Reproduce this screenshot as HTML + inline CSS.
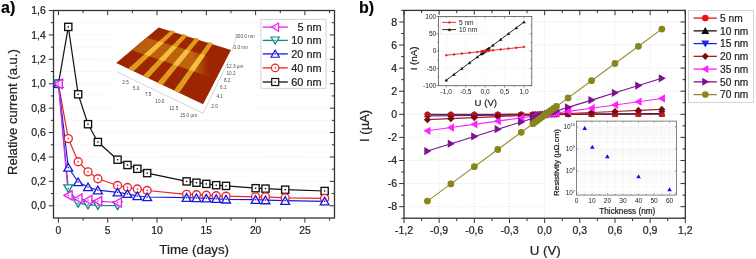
<!DOCTYPE html>
<html><head><meta charset="utf-8"><style>
html,body{margin:0;padding:0;background:#fff;}
svg{display:block;font-family:"Liberation Sans", sans-serif;}
svg{will-change:transform;}
text{stroke:#2a2a2a;stroke-width:0.22px;paint-order:stroke;}
text.sm{stroke:none;}
</style></head><body>
<svg width="756" height="259" viewBox="0 0 756 259">
<rect width="756" height="259" fill="#fff"/>
<line x1="53.5" y1="205.79" x2="334.5" y2="205.79" stroke="#e4e4e4" stroke-width="0.8" stroke-dasharray="1 1.6"/>
<line x1="53.5" y1="193.59" x2="334.5" y2="193.59" stroke="#e4e4e4" stroke-width="0.8" stroke-dasharray="1 1.6"/>
<line x1="53.5" y1="181.38" x2="334.5" y2="181.38" stroke="#e4e4e4" stroke-width="0.8" stroke-dasharray="1 1.6"/>
<line x1="53.5" y1="169.18" x2="334.5" y2="169.18" stroke="#e4e4e4" stroke-width="0.8" stroke-dasharray="1 1.6"/>
<line x1="53.5" y1="156.97" x2="334.5" y2="156.97" stroke="#e4e4e4" stroke-width="0.8" stroke-dasharray="1 1.6"/>
<line x1="53.5" y1="144.76" x2="334.5" y2="144.76" stroke="#e4e4e4" stroke-width="0.8" stroke-dasharray="1 1.6"/>
<line x1="53.5" y1="132.56" x2="334.5" y2="132.56" stroke="#e4e4e4" stroke-width="0.8" stroke-dasharray="1 1.6"/>
<line x1="53.5" y1="120.35" x2="334.5" y2="120.35" stroke="#e4e4e4" stroke-width="0.8" stroke-dasharray="1 1.6"/>
<line x1="53.5" y1="108.15" x2="334.5" y2="108.15" stroke="#e4e4e4" stroke-width="0.8" stroke-dasharray="1 1.6"/>
<line x1="53.5" y1="95.94" x2="334.5" y2="95.94" stroke="#e4e4e4" stroke-width="0.8" stroke-dasharray="1 1.6"/>
<line x1="53.5" y1="83.74" x2="334.5" y2="83.74" stroke="#e4e4e4" stroke-width="0.8" stroke-dasharray="1 1.6"/>
<line x1="53.5" y1="71.53" x2="334.5" y2="71.53" stroke="#e4e4e4" stroke-width="0.8" stroke-dasharray="1 1.6"/>
<line x1="53.5" y1="59.32" x2="334.5" y2="59.32" stroke="#e4e4e4" stroke-width="0.8" stroke-dasharray="1 1.6"/>
<line x1="53.5" y1="47.12" x2="334.5" y2="47.12" stroke="#e4e4e4" stroke-width="0.8" stroke-dasharray="1 1.6"/>
<line x1="53.5" y1="34.91" x2="334.5" y2="34.91" stroke="#e4e4e4" stroke-width="0.8" stroke-dasharray="1 1.6"/>
<line x1="53.5" y1="22.71" x2="334.5" y2="22.71" stroke="#e4e4e4" stroke-width="0.8" stroke-dasharray="1 1.6"/>
<rect x="114.5" y="24" width="137" height="90" fill="#fff"/>
<defs><clipPath id="surf"><polygon points="158.7,27.6 231,50 203.1,104.2 116.2,63"/></clipPath><clipPath id="band"><polygon points="128,32 214,58 232,63.5 232,84 210,77 128,49"/></clipPath><linearGradient id="bg" x1="128" y1="0" x2="209" y2="0" gradientUnits="userSpaceOnUse"><stop offset="0" stop-color="#b85a0c"/><stop offset="0.8" stop-color="#c0640e"/><stop offset="1" stop-color="#c0640e" stop-opacity="0"/></linearGradient></defs>
<polygon points="158.7,27.6 231,50 203.1,104.2 116.2,63" fill="#9c2602" stroke="none" stroke-width="1" />
<g clip-path="url(#surf)">
<polygon points="128,32 214,58 232,63.5 232,84 210,77 128,49" fill="url(#bg)" stroke="none" stroke-width="1" />
<polygon points="171.52,30.05 175.83,31.36 133.41,71.16 128.19,68.69" fill="#e09a1c" stroke="none" stroke-width="1" />
<polygon points="183.74,33.76 188.05,35.07 148.18,78.16 142.97,75.69" fill="#e09a1c" stroke="none" stroke-width="1" />
<polygon points="195.74,37.4 200.05,38.72 162.69,85.04 157.48,82.57" fill="#e09a1c" stroke="none" stroke-width="1" />
<polygon points="209.39,41.55 213.7,42.86 179.2,92.87 173.99,90.4" fill="#e09a1c" stroke="none" stroke-width="1" />
<g clip-path="url(#band)">
<polygon points="170.27,31.18 174.61,32.53 133.41,71.16 128.19,68.69" fill="#f4bf3c" stroke="none" stroke-width="1" />
<polygon points="182.56,34.99 186.9,36.34 148.18,78.16 142.97,75.69" fill="#f4bf3c" stroke="none" stroke-width="1" />
<polygon points="194.63,38.73 198.97,40.08 162.69,85.04 157.48,82.57" fill="#f4bf3c" stroke="none" stroke-width="1" />
<polygon points="208.37,42.99 212.71,44.33 179.2,92.87 173.99,90.4" fill="#f4bf3c" stroke="none" stroke-width="1" />
</g></g>
<polygon points="170.27,31.18 174.61,32.53 174.61,31.33 170.27,29.98" fill="#e09a1c" stroke="none" stroke-width="1" />
<polygon points="182.56,34.99 186.9,36.34 186.9,35.14 182.56,33.79" fill="#e09a1c" stroke="none" stroke-width="1" />
<polygon points="194.63,38.73 198.97,40.08 198.97,38.88 194.63,37.53" fill="#e09a1c" stroke="none" stroke-width="1" />
<polygon points="208.37,42.99 212.71,44.33 212.71,43.13 208.37,41.79" fill="#e09a1c" stroke="none" stroke-width="1" />
<line x1="117.4" y1="72.1" x2="203.1" y2="113.3" stroke="#aaa" stroke-width="0.5" />
<line x1="203.1" y1="113.3" x2="228.5" y2="61" stroke="#aaa" stroke-width="0.5" />
<line x1="232" y1="50.5" x2="236" y2="38" stroke="#aaa" stroke-width="0.5" />
<text x="122.3" y="84.4" font-size="4.7" text-anchor="start" fill="#4a4a4a" font-weight="normal"  class="sm">2.5</text>
<text x="132.8" y="89.6" font-size="4.7" text-anchor="start" fill="#4a4a4a" font-weight="normal"  class="sm">5.0</text>
<text x="144.9" y="96" font-size="4.7" text-anchor="start" fill="#4a4a4a" font-weight="normal"  class="sm">7.5</text>
<text x="155.3" y="102.6" font-size="4.7" text-anchor="start" fill="#4a4a4a" font-weight="normal"  class="sm">10.0</text>
<text x="169.2" y="109.6" font-size="4.7" text-anchor="start" fill="#4a4a4a" font-weight="normal"  class="sm">12.5</text>
<text x="180" y="117" font-size="4.7" text-anchor="start" fill="#4a4a4a" font-weight="normal"  class="sm">15.0 µm</text>
<text x="211.3" y="108.1" font-size="4.7" text-anchor="start" fill="#4a4a4a" font-weight="normal"  class="sm">2.0</text>
<text x="216.4" y="98.1" font-size="4.7" text-anchor="start" fill="#4a4a4a" font-weight="normal"  class="sm">4.1</text>
<text x="220.1" y="89.3" font-size="4.7" text-anchor="start" fill="#4a4a4a" font-weight="normal"  class="sm">6.1</text>
<text x="223.9" y="81.7" font-size="4.7" text-anchor="start" fill="#4a4a4a" font-weight="normal"  class="sm">8.2</text>
<text x="226.4" y="74.7" font-size="4.7" text-anchor="start" fill="#4a4a4a" font-weight="normal"  class="sm">10.2</text>
<text x="226.4" y="67.9" font-size="4.7" text-anchor="start" fill="#4a4a4a" font-weight="normal"  class="sm">12.3 µm</text>
<text x="233.5" y="49.2" font-size="4.7" text-anchor="start" fill="#4a4a4a" font-weight="normal"  class="sm">0.0 nm</text>
<text x="235.2" y="38.3" font-size="4.7" text-anchor="start" fill="#4a4a4a" font-weight="normal"  class="sm">300.0 nm</text>
<rect x="53.5" y="10.5" width="281.0" height="207.5" fill="none" stroke="#333" stroke-width="1.3"/>
<line x1="48.8" y1="205.79" x2="53.5" y2="205.79" stroke="#333" stroke-width="1" />
<line x1="329.8" y1="205.79" x2="334.5" y2="205.79" stroke="#333" stroke-width="1" />
<text x="45.8" y="209.49" font-size="10.5" text-anchor="end" fill="#222" font-weight="normal" >0,0</text>
<line x1="50.8" y1="193.59" x2="53.5" y2="193.59" stroke="#333" stroke-width="1" />
<line x1="331.8" y1="193.59" x2="334.5" y2="193.59" stroke="#333" stroke-width="1" />
<line x1="48.8" y1="181.38" x2="53.5" y2="181.38" stroke="#333" stroke-width="1" />
<line x1="329.8" y1="181.38" x2="334.5" y2="181.38" stroke="#333" stroke-width="1" />
<text x="45.8" y="185.08" font-size="10.5" text-anchor="end" fill="#222" font-weight="normal" >0,2</text>
<line x1="50.8" y1="169.18" x2="53.5" y2="169.18" stroke="#333" stroke-width="1" />
<line x1="331.8" y1="169.18" x2="334.5" y2="169.18" stroke="#333" stroke-width="1" />
<line x1="48.8" y1="156.97" x2="53.5" y2="156.97" stroke="#333" stroke-width="1" />
<line x1="329.8" y1="156.97" x2="334.5" y2="156.97" stroke="#333" stroke-width="1" />
<text x="45.8" y="160.67" font-size="10.5" text-anchor="end" fill="#222" font-weight="normal" >0,4</text>
<line x1="50.8" y1="144.76" x2="53.5" y2="144.76" stroke="#333" stroke-width="1" />
<line x1="331.8" y1="144.76" x2="334.5" y2="144.76" stroke="#333" stroke-width="1" />
<line x1="48.8" y1="132.56" x2="53.5" y2="132.56" stroke="#333" stroke-width="1" />
<line x1="329.8" y1="132.56" x2="334.5" y2="132.56" stroke="#333" stroke-width="1" />
<text x="45.8" y="136.26" font-size="10.5" text-anchor="end" fill="#222" font-weight="normal" >0,6</text>
<line x1="50.8" y1="120.35" x2="53.5" y2="120.35" stroke="#333" stroke-width="1" />
<line x1="331.8" y1="120.35" x2="334.5" y2="120.35" stroke="#333" stroke-width="1" />
<line x1="48.8" y1="108.15" x2="53.5" y2="108.15" stroke="#333" stroke-width="1" />
<line x1="329.8" y1="108.15" x2="334.5" y2="108.15" stroke="#333" stroke-width="1" />
<text x="45.8" y="111.85" font-size="10.5" text-anchor="end" fill="#222" font-weight="normal" >0,8</text>
<line x1="50.8" y1="95.94" x2="53.5" y2="95.94" stroke="#333" stroke-width="1" />
<line x1="331.8" y1="95.94" x2="334.5" y2="95.94" stroke="#333" stroke-width="1" />
<line x1="48.8" y1="83.74" x2="53.5" y2="83.74" stroke="#333" stroke-width="1" />
<line x1="329.8" y1="83.74" x2="334.5" y2="83.74" stroke="#333" stroke-width="1" />
<text x="45.8" y="87.44" font-size="10.5" text-anchor="end" fill="#222" font-weight="normal" >1,0</text>
<line x1="50.8" y1="71.53" x2="53.5" y2="71.53" stroke="#333" stroke-width="1" />
<line x1="331.8" y1="71.53" x2="334.5" y2="71.53" stroke="#333" stroke-width="1" />
<line x1="48.8" y1="59.32" x2="53.5" y2="59.32" stroke="#333" stroke-width="1" />
<line x1="329.8" y1="59.32" x2="334.5" y2="59.32" stroke="#333" stroke-width="1" />
<text x="45.8" y="63.02" font-size="10.5" text-anchor="end" fill="#222" font-weight="normal" >1,2</text>
<line x1="50.8" y1="47.12" x2="53.5" y2="47.12" stroke="#333" stroke-width="1" />
<line x1="331.8" y1="47.12" x2="334.5" y2="47.12" stroke="#333" stroke-width="1" />
<line x1="48.8" y1="34.91" x2="53.5" y2="34.91" stroke="#333" stroke-width="1" />
<line x1="329.8" y1="34.91" x2="334.5" y2="34.91" stroke="#333" stroke-width="1" />
<text x="45.8" y="38.61" font-size="10.5" text-anchor="end" fill="#222" font-weight="normal" >1,4</text>
<line x1="50.8" y1="22.71" x2="53.5" y2="22.71" stroke="#333" stroke-width="1" />
<line x1="331.8" y1="22.71" x2="334.5" y2="22.71" stroke="#333" stroke-width="1" />
<line x1="48.8" y1="10.5" x2="53.5" y2="10.5" stroke="#333" stroke-width="1" />
<line x1="329.8" y1="10.5" x2="334.5" y2="10.5" stroke="#333" stroke-width="1" />
<text x="45.8" y="14.2" font-size="10.5" text-anchor="end" fill="#222" font-weight="normal" >1,6</text>
<line x1="58.43" y1="218" x2="58.43" y2="222.7" stroke="#333" stroke-width="1" />
<line x1="58.43" y1="10.5" x2="58.43" y2="15.2" stroke="#333" stroke-width="1" />
<text x="58.43" y="233.6" font-size="10.3" text-anchor="middle" fill="#222" font-weight="normal" >0</text>
<line x1="83.08" y1="218" x2="83.08" y2="220.7" stroke="#333" stroke-width="1" />
<line x1="83.08" y1="10.5" x2="83.08" y2="13.2" stroke="#333" stroke-width="1" />
<line x1="107.73" y1="218" x2="107.73" y2="222.7" stroke="#333" stroke-width="1" />
<line x1="107.73" y1="10.5" x2="107.73" y2="15.2" stroke="#333" stroke-width="1" />
<text x="107.73" y="233.6" font-size="10.3" text-anchor="middle" fill="#222" font-weight="normal" >5</text>
<line x1="132.38" y1="218" x2="132.38" y2="220.7" stroke="#333" stroke-width="1" />
<line x1="132.38" y1="10.5" x2="132.38" y2="13.2" stroke="#333" stroke-width="1" />
<line x1="157.03" y1="218" x2="157.03" y2="222.7" stroke="#333" stroke-width="1" />
<line x1="157.03" y1="10.5" x2="157.03" y2="15.2" stroke="#333" stroke-width="1" />
<text x="157.03" y="233.6" font-size="10.3" text-anchor="middle" fill="#222" font-weight="normal" >10</text>
<line x1="181.68" y1="218" x2="181.68" y2="220.7" stroke="#333" stroke-width="1" />
<line x1="181.68" y1="10.5" x2="181.68" y2="13.2" stroke="#333" stroke-width="1" />
<line x1="206.32" y1="218" x2="206.32" y2="222.7" stroke="#333" stroke-width="1" />
<line x1="206.32" y1="10.5" x2="206.32" y2="15.2" stroke="#333" stroke-width="1" />
<text x="206.32" y="233.6" font-size="10.3" text-anchor="middle" fill="#222" font-weight="normal" >15</text>
<line x1="230.97" y1="218" x2="230.97" y2="220.7" stroke="#333" stroke-width="1" />
<line x1="230.97" y1="10.5" x2="230.97" y2="13.2" stroke="#333" stroke-width="1" />
<line x1="255.62" y1="218" x2="255.62" y2="222.7" stroke="#333" stroke-width="1" />
<line x1="255.62" y1="10.5" x2="255.62" y2="15.2" stroke="#333" stroke-width="1" />
<text x="255.62" y="233.6" font-size="10.3" text-anchor="middle" fill="#222" font-weight="normal" >20</text>
<line x1="280.27" y1="218" x2="280.27" y2="220.7" stroke="#333" stroke-width="1" />
<line x1="280.27" y1="10.5" x2="280.27" y2="13.2" stroke="#333" stroke-width="1" />
<line x1="304.92" y1="218" x2="304.92" y2="222.7" stroke="#333" stroke-width="1" />
<line x1="304.92" y1="10.5" x2="304.92" y2="15.2" stroke="#333" stroke-width="1" />
<text x="304.92" y="233.6" font-size="10.3" text-anchor="middle" fill="#222" font-weight="normal" >25</text>
<line x1="329.57" y1="218" x2="329.57" y2="220.7" stroke="#333" stroke-width="1" />
<line x1="329.57" y1="10.5" x2="329.57" y2="13.2" stroke="#333" stroke-width="1" />
<text x="194.2" y="254.4" font-size="13.3" text-anchor="middle" fill="#222" font-weight="normal" >Time (days)</text>
<text x="0" y="0" font-size="13.1" text-anchor="middle" fill="#222" font-weight="normal" transform="translate(16.9,112.1) rotate(-90)">Relative current (a.u.)</text>
<text x="1" y="13" font-size="16" text-anchor="start" fill="#000" font-weight="bold" >a)</text>
<polyline points="58.43,83.8 68.29,26.9 78.15,94.3 88.01,124.2 97.87,142 117.59,159.7 127.45,165 137.31,168.8 147.17,173.1 186.61,181.4 196.46,182.7 206.32,183.9 216.18,185.2 226.04,185.9 255.62,188.2 265.48,188.6 285.2,189.7 324.64,191" fill="none" stroke="#111" stroke-width="1.2" stroke-linejoin="round" />
<polyline points="58.43,83.8 68.29,138.6 78.15,161.7 88.01,171.8 97.87,178.7 117.59,185.5 127.45,187.5 137.31,189 147.17,190.5 186.61,194.3 196.46,194.7 206.32,195.2 216.18,195.7 226.04,196.2 255.62,196.9 265.48,196.9 285.2,197.8 324.64,198.4" fill="none" stroke="#e8262a" stroke-width="1.2" stroke-linejoin="round" />
<polyline points="58.43,83.8 68.29,167.5 78.15,182 88.01,187 97.87,190.2 117.59,192.3 127.45,193.8 137.31,196 147.17,197 186.61,197.7 196.46,198 206.32,198.3 216.18,198.8 226.04,199.4 255.62,199.7 265.48,200.1 285.2,200.7 324.64,201.3" fill="none" stroke="#1a1adc" stroke-width="1.2" stroke-linejoin="round" />
<polyline points="58.43,83.8 68.29,188.4 78.15,203.2 88.01,204.9 97.87,205.3 117.59,205.6" fill="none" stroke="#0e8a8a" stroke-width="1.2" stroke-linejoin="round" />
<polyline points="58.43,83.8 68.29,195.4 78.15,198.5 88.01,200 97.87,201.2 117.59,202.5" fill="none" stroke="#f01cf0" stroke-width="1.2" stroke-linejoin="round" />
<rect x="54.83" y="80.2" width="7.2" height="7.2" fill="#fff" stroke="#111" stroke-width="1.35"/>
<rect x="57.73" y="83.1" width="1.4" height="1.4" fill="#111"/>
<rect x="64.69" y="23.3" width="7.2" height="7.2" fill="#fff" stroke="#111" stroke-width="1.35"/>
<rect x="67.59" y="26.2" width="1.4" height="1.4" fill="#111"/>
<rect x="74.55" y="90.7" width="7.2" height="7.2" fill="#fff" stroke="#111" stroke-width="1.35"/>
<rect x="77.45" y="93.6" width="1.4" height="1.4" fill="#111"/>
<rect x="84.41" y="120.6" width="7.2" height="7.2" fill="#fff" stroke="#111" stroke-width="1.35"/>
<rect x="87.31" y="123.5" width="1.4" height="1.4" fill="#111"/>
<rect x="94.27" y="138.4" width="7.2" height="7.2" fill="#fff" stroke="#111" stroke-width="1.35"/>
<rect x="97.17" y="141.3" width="1.4" height="1.4" fill="#111"/>
<rect x="113.99" y="156.1" width="7.2" height="7.2" fill="#fff" stroke="#111" stroke-width="1.35"/>
<rect x="116.89" y="159" width="1.4" height="1.4" fill="#111"/>
<rect x="123.85" y="161.4" width="7.2" height="7.2" fill="#fff" stroke="#111" stroke-width="1.35"/>
<rect x="126.75" y="164.3" width="1.4" height="1.4" fill="#111"/>
<rect x="133.71" y="165.2" width="7.2" height="7.2" fill="#fff" stroke="#111" stroke-width="1.35"/>
<rect x="136.61" y="168.1" width="1.4" height="1.4" fill="#111"/>
<rect x="143.57" y="169.5" width="7.2" height="7.2" fill="#fff" stroke="#111" stroke-width="1.35"/>
<rect x="146.47" y="172.4" width="1.4" height="1.4" fill="#111"/>
<rect x="183.01" y="177.8" width="7.2" height="7.2" fill="#fff" stroke="#111" stroke-width="1.35"/>
<rect x="185.91" y="180.7" width="1.4" height="1.4" fill="#111"/>
<rect x="192.86" y="179.1" width="7.2" height="7.2" fill="#fff" stroke="#111" stroke-width="1.35"/>
<rect x="195.76" y="182" width="1.4" height="1.4" fill="#111"/>
<rect x="202.72" y="180.3" width="7.2" height="7.2" fill="#fff" stroke="#111" stroke-width="1.35"/>
<rect x="205.62" y="183.2" width="1.4" height="1.4" fill="#111"/>
<rect x="212.58" y="181.6" width="7.2" height="7.2" fill="#fff" stroke="#111" stroke-width="1.35"/>
<rect x="215.48" y="184.5" width="1.4" height="1.4" fill="#111"/>
<rect x="222.44" y="182.3" width="7.2" height="7.2" fill="#fff" stroke="#111" stroke-width="1.35"/>
<rect x="225.34" y="185.2" width="1.4" height="1.4" fill="#111"/>
<rect x="252.02" y="184.6" width="7.2" height="7.2" fill="#fff" stroke="#111" stroke-width="1.35"/>
<rect x="254.92" y="187.5" width="1.4" height="1.4" fill="#111"/>
<rect x="261.88" y="185" width="7.2" height="7.2" fill="#fff" stroke="#111" stroke-width="1.35"/>
<rect x="264.78" y="187.9" width="1.4" height="1.4" fill="#111"/>
<rect x="281.6" y="186.1" width="7.2" height="7.2" fill="#fff" stroke="#111" stroke-width="1.35"/>
<rect x="284.5" y="189" width="1.4" height="1.4" fill="#111"/>
<rect x="321.04" y="187.4" width="7.2" height="7.2" fill="#fff" stroke="#111" stroke-width="1.35"/>
<rect x="323.94" y="190.3" width="1.4" height="1.4" fill="#111"/>
<circle cx="58.43" cy="83.8" r="4" fill="#fff" stroke="#e8262a" stroke-width="1.35"/>
<rect x="57.73" y="83.1" width="1.4" height="1.4" fill="#e8262a"/>
<circle cx="68.29" cy="138.6" r="4" fill="#fff" stroke="#e8262a" stroke-width="1.35"/>
<rect x="67.59" y="137.9" width="1.4" height="1.4" fill="#e8262a"/>
<circle cx="78.15" cy="161.7" r="4" fill="#fff" stroke="#e8262a" stroke-width="1.35"/>
<rect x="77.45" y="161" width="1.4" height="1.4" fill="#e8262a"/>
<circle cx="88.01" cy="171.8" r="4" fill="#fff" stroke="#e8262a" stroke-width="1.35"/>
<rect x="87.31" y="171.1" width="1.4" height="1.4" fill="#e8262a"/>
<circle cx="97.87" cy="178.7" r="4" fill="#fff" stroke="#e8262a" stroke-width="1.35"/>
<rect x="97.17" y="178" width="1.4" height="1.4" fill="#e8262a"/>
<circle cx="117.59" cy="185.5" r="4" fill="#fff" stroke="#e8262a" stroke-width="1.35"/>
<rect x="116.89" y="184.8" width="1.4" height="1.4" fill="#e8262a"/>
<circle cx="127.45" cy="187.5" r="4" fill="#fff" stroke="#e8262a" stroke-width="1.35"/>
<rect x="126.75" y="186.8" width="1.4" height="1.4" fill="#e8262a"/>
<circle cx="137.31" cy="189" r="4" fill="#fff" stroke="#e8262a" stroke-width="1.35"/>
<rect x="136.61" y="188.3" width="1.4" height="1.4" fill="#e8262a"/>
<circle cx="147.17" cy="190.5" r="4" fill="#fff" stroke="#e8262a" stroke-width="1.35"/>
<rect x="146.47" y="189.8" width="1.4" height="1.4" fill="#e8262a"/>
<circle cx="186.61" cy="194.3" r="4" fill="#fff" stroke="#e8262a" stroke-width="1.35"/>
<rect x="185.91" y="193.6" width="1.4" height="1.4" fill="#e8262a"/>
<circle cx="196.46" cy="194.7" r="4" fill="#fff" stroke="#e8262a" stroke-width="1.35"/>
<rect x="195.76" y="194" width="1.4" height="1.4" fill="#e8262a"/>
<circle cx="206.32" cy="195.2" r="4" fill="#fff" stroke="#e8262a" stroke-width="1.35"/>
<rect x="205.62" y="194.5" width="1.4" height="1.4" fill="#e8262a"/>
<circle cx="216.18" cy="195.7" r="4" fill="#fff" stroke="#e8262a" stroke-width="1.35"/>
<rect x="215.48" y="195" width="1.4" height="1.4" fill="#e8262a"/>
<circle cx="226.04" cy="196.2" r="4" fill="#fff" stroke="#e8262a" stroke-width="1.35"/>
<rect x="225.34" y="195.5" width="1.4" height="1.4" fill="#e8262a"/>
<circle cx="255.62" cy="196.9" r="4" fill="#fff" stroke="#e8262a" stroke-width="1.35"/>
<rect x="254.92" y="196.2" width="1.4" height="1.4" fill="#e8262a"/>
<circle cx="265.48" cy="196.9" r="4" fill="#fff" stroke="#e8262a" stroke-width="1.35"/>
<rect x="264.78" y="196.2" width="1.4" height="1.4" fill="#e8262a"/>
<circle cx="285.2" cy="197.8" r="4" fill="#fff" stroke="#e8262a" stroke-width="1.35"/>
<rect x="284.5" y="197.1" width="1.4" height="1.4" fill="#e8262a"/>
<circle cx="324.64" cy="198.4" r="4" fill="#fff" stroke="#e8262a" stroke-width="1.35"/>
<rect x="323.94" y="197.7" width="1.4" height="1.4" fill="#e8262a"/>
<polygon points="58.43,79.8 54.03,87.4 62.83,87.4" fill="#fff" stroke="#1a1adc" stroke-width="1.35" />
<rect x="57.73" y="83.1" width="1.4" height="1.4" fill="#1a1adc"/>
<polygon points="68.29,163.5 63.89,171.1 72.69,171.1" fill="#fff" stroke="#1a1adc" stroke-width="1.35" />
<rect x="67.59" y="166.8" width="1.4" height="1.4" fill="#1a1adc"/>
<polygon points="78.15,178 73.75,185.6 82.55,185.6" fill="#fff" stroke="#1a1adc" stroke-width="1.35" />
<rect x="77.45" y="181.3" width="1.4" height="1.4" fill="#1a1adc"/>
<polygon points="88.01,183 83.61,190.6 92.41,190.6" fill="#fff" stroke="#1a1adc" stroke-width="1.35" />
<rect x="87.31" y="186.3" width="1.4" height="1.4" fill="#1a1adc"/>
<polygon points="97.87,186.2 93.47,193.8 102.27,193.8" fill="#fff" stroke="#1a1adc" stroke-width="1.35" />
<rect x="97.17" y="189.5" width="1.4" height="1.4" fill="#1a1adc"/>
<polygon points="117.59,188.3 113.19,195.9 121.99,195.9" fill="#fff" stroke="#1a1adc" stroke-width="1.35" />
<rect x="116.89" y="191.6" width="1.4" height="1.4" fill="#1a1adc"/>
<polygon points="127.45,189.8 123.05,197.4 131.85,197.4" fill="#fff" stroke="#1a1adc" stroke-width="1.35" />
<rect x="126.75" y="193.1" width="1.4" height="1.4" fill="#1a1adc"/>
<polygon points="137.31,192 132.91,199.6 141.71,199.6" fill="#fff" stroke="#1a1adc" stroke-width="1.35" />
<rect x="136.61" y="195.3" width="1.4" height="1.4" fill="#1a1adc"/>
<polygon points="147.17,193 142.77,200.6 151.57,200.6" fill="#fff" stroke="#1a1adc" stroke-width="1.35" />
<rect x="146.47" y="196.3" width="1.4" height="1.4" fill="#1a1adc"/>
<polygon points="186.61,193.7 182.21,201.3 191.01,201.3" fill="#fff" stroke="#1a1adc" stroke-width="1.35" />
<rect x="185.91" y="197" width="1.4" height="1.4" fill="#1a1adc"/>
<polygon points="196.46,194 192.06,201.6 200.86,201.6" fill="#fff" stroke="#1a1adc" stroke-width="1.35" />
<rect x="195.76" y="197.3" width="1.4" height="1.4" fill="#1a1adc"/>
<polygon points="206.32,194.3 201.92,201.9 210.72,201.9" fill="#fff" stroke="#1a1adc" stroke-width="1.35" />
<rect x="205.62" y="197.6" width="1.4" height="1.4" fill="#1a1adc"/>
<polygon points="216.18,194.8 211.78,202.4 220.58,202.4" fill="#fff" stroke="#1a1adc" stroke-width="1.35" />
<rect x="215.48" y="198.1" width="1.4" height="1.4" fill="#1a1adc"/>
<polygon points="226.04,195.4 221.64,203 230.44,203" fill="#fff" stroke="#1a1adc" stroke-width="1.35" />
<rect x="225.34" y="198.7" width="1.4" height="1.4" fill="#1a1adc"/>
<polygon points="255.62,195.7 251.22,203.3 260.02,203.3" fill="#fff" stroke="#1a1adc" stroke-width="1.35" />
<rect x="254.92" y="199" width="1.4" height="1.4" fill="#1a1adc"/>
<polygon points="265.48,196.1 261.08,203.7 269.88,203.7" fill="#fff" stroke="#1a1adc" stroke-width="1.35" />
<rect x="264.78" y="199.4" width="1.4" height="1.4" fill="#1a1adc"/>
<polygon points="285.2,196.7 280.8,204.3 289.6,204.3" fill="#fff" stroke="#1a1adc" stroke-width="1.35" />
<rect x="284.5" y="200" width="1.4" height="1.4" fill="#1a1adc"/>
<polygon points="324.64,197.3 320.24,204.9 329.04,204.9" fill="#fff" stroke="#1a1adc" stroke-width="1.35" />
<rect x="323.94" y="200.6" width="1.4" height="1.4" fill="#1a1adc"/>
<polygon points="58.43,87.8 54.03,80.2 62.83,80.2" fill="#fff" stroke="#0e8a8a" stroke-width="1.35" />
<rect x="57.73" y="83.1" width="1.4" height="1.4" fill="#0e8a8a"/>
<polygon points="68.29,192.4 63.89,184.8 72.69,184.8" fill="#fff" stroke="#0e8a8a" stroke-width="1.35" />
<rect x="67.59" y="187.7" width="1.4" height="1.4" fill="#0e8a8a"/>
<polygon points="78.15,207.2 73.75,199.6 82.55,199.6" fill="#fff" stroke="#0e8a8a" stroke-width="1.35" />
<rect x="77.45" y="202.5" width="1.4" height="1.4" fill="#0e8a8a"/>
<polygon points="88.01,208.9 83.61,201.3 92.41,201.3" fill="#fff" stroke="#0e8a8a" stroke-width="1.35" />
<rect x="87.31" y="204.2" width="1.4" height="1.4" fill="#0e8a8a"/>
<polygon points="97.87,209.3 93.47,201.7 102.27,201.7" fill="#fff" stroke="#0e8a8a" stroke-width="1.35" />
<rect x="97.17" y="204.6" width="1.4" height="1.4" fill="#0e8a8a"/>
<polygon points="117.59,209.6 113.19,202 121.99,202" fill="#fff" stroke="#0e8a8a" stroke-width="1.35" />
<rect x="116.89" y="204.9" width="1.4" height="1.4" fill="#0e8a8a"/>
<polygon points="54.18,83.8 62.25,79.12 62.25,88.47" fill="#fff" stroke="#f01cf0" stroke-width="1.35" />
<rect x="57.73" y="83.1" width="1.4" height="1.4" fill="#f01cf0"/>
<polygon points="64.04,195.4 72.11,190.72 72.11,200.08" fill="#fff" stroke="#f01cf0" stroke-width="1.35" />
<rect x="67.59" y="194.7" width="1.4" height="1.4" fill="#f01cf0"/>
<polygon points="73.9,198.5 81.97,193.82 81.97,203.18" fill="#fff" stroke="#f01cf0" stroke-width="1.35" />
<rect x="77.45" y="197.8" width="1.4" height="1.4" fill="#f01cf0"/>
<polygon points="83.76,200 91.83,195.32 91.83,204.68" fill="#fff" stroke="#f01cf0" stroke-width="1.35" />
<rect x="87.31" y="199.3" width="1.4" height="1.4" fill="#f01cf0"/>
<polygon points="93.62,201.2 101.69,196.52 101.69,205.88" fill="#fff" stroke="#f01cf0" stroke-width="1.35" />
<rect x="97.17" y="200.5" width="1.4" height="1.4" fill="#f01cf0"/>
<polygon points="113.34,202.5 121.41,197.82 121.41,207.18" fill="#fff" stroke="#f01cf0" stroke-width="1.35" />
<rect x="116.89" y="201.8" width="1.4" height="1.4" fill="#f01cf0"/>
<rect x="261" y="19.3" width="65" height="69" fill="#fff" stroke="#c8c8c8" stroke-width="0.8"/>
<line x1="262.7" y1="27.1" x2="287.8" y2="27.1" stroke="#f01cf0" stroke-width="1.3" />
<polygon points="271.45,27.1 278.57,22.98 278.57,31.23" fill="#fff" stroke="#f01cf0" stroke-width="1.2" />
<rect x="274.5" y="26.4" width="1.4" height="1.4" fill="#f01cf0"/>
<text x="321.6" y="31" font-size="10.9" text-anchor="end" fill="#222" font-weight="normal" >5 nm</text>
<line x1="262.7" y1="40.4" x2="287.8" y2="40.4" stroke="#0e8a8a" stroke-width="1.3" />
<polygon points="275.2,44.15 271.07,37.02 279.32,37.02" fill="#fff" stroke="#0e8a8a" stroke-width="1.2" />
<rect x="274.5" y="39.7" width="1.4" height="1.4" fill="#0e8a8a"/>
<text x="321.6" y="44.3" font-size="10.9" text-anchor="end" fill="#222" font-weight="normal" >10 nm</text>
<line x1="262.7" y1="53.9" x2="287.8" y2="53.9" stroke="#1a1adc" stroke-width="1.3" />
<polygon points="275.2,50.15 271.07,57.27 279.32,57.27" fill="#fff" stroke="#1a1adc" stroke-width="1.2" />
<rect x="274.5" y="53.2" width="1.4" height="1.4" fill="#1a1adc"/>
<text x="321.6" y="57.8" font-size="10.9" text-anchor="end" fill="#222" font-weight="normal" >20 nm</text>
<line x1="262.7" y1="67.9" x2="287.8" y2="67.9" stroke="#e8262a" stroke-width="1.3" />
<circle cx="275.2" cy="67.9" r="3.75" fill="#fff" stroke="#e8262a" stroke-width="1.2"/>
<rect x="274.5" y="67.2" width="1.4" height="1.4" fill="#e8262a"/>
<text x="321.6" y="71.8" font-size="10.9" text-anchor="end" fill="#222" font-weight="normal" >40 nm</text>
<line x1="262.7" y1="82" x2="287.8" y2="82" stroke="#111" stroke-width="1.3" />
<rect x="271.7" y="78.5" width="7" height="7" fill="#fff" stroke="#111" stroke-width="1.2"/>
<rect x="274.5" y="81.3" width="1.4" height="1.4" fill="#111"/>
<text x="321.6" y="85.9" font-size="10.9" text-anchor="end" fill="#222" font-weight="normal" >60 nm</text>
<line x1="439.16" y1="10.4" x2="439.16" y2="218.2" stroke="#dcdcdc" stroke-width="0.8" stroke-dasharray="1 1.6"/>
<line x1="474.32" y1="10.4" x2="474.32" y2="218.2" stroke="#dcdcdc" stroke-width="0.8" stroke-dasharray="1 1.6"/>
<line x1="509.49" y1="10.4" x2="509.49" y2="218.2" stroke="#dcdcdc" stroke-width="0.8" stroke-dasharray="1 1.6"/>
<line x1="544.65" y1="10.4" x2="544.65" y2="218.2" stroke="#dcdcdc" stroke-width="0.8" stroke-dasharray="1 1.6"/>
<line x1="579.81" y1="10.4" x2="579.81" y2="218.2" stroke="#dcdcdc" stroke-width="0.8" stroke-dasharray="1 1.6"/>
<line x1="614.97" y1="10.4" x2="614.97" y2="218.2" stroke="#dcdcdc" stroke-width="0.8" stroke-dasharray="1 1.6"/>
<line x1="650.14" y1="10.4" x2="650.14" y2="218.2" stroke="#dcdcdc" stroke-width="0.8" stroke-dasharray="1 1.6"/>
<line x1="404" y1="206.66" x2="685.3" y2="206.66" stroke="#dcdcdc" stroke-width="0.8" stroke-dasharray="1 1.6"/>
<line x1="404" y1="183.57" x2="685.3" y2="183.57" stroke="#dcdcdc" stroke-width="0.8" stroke-dasharray="1 1.6"/>
<line x1="404" y1="160.48" x2="685.3" y2="160.48" stroke="#dcdcdc" stroke-width="0.8" stroke-dasharray="1 1.6"/>
<line x1="404" y1="137.39" x2="685.3" y2="137.39" stroke="#dcdcdc" stroke-width="0.8" stroke-dasharray="1 1.6"/>
<line x1="404" y1="114.3" x2="685.3" y2="114.3" stroke="#dcdcdc" stroke-width="0.8" stroke-dasharray="1 1.6"/>
<line x1="404" y1="91.21" x2="685.3" y2="91.21" stroke="#dcdcdc" stroke-width="0.8" stroke-dasharray="1 1.6"/>
<line x1="404" y1="68.12" x2="685.3" y2="68.12" stroke="#dcdcdc" stroke-width="0.8" stroke-dasharray="1 1.6"/>
<line x1="404" y1="45.03" x2="685.3" y2="45.03" stroke="#dcdcdc" stroke-width="0.8" stroke-dasharray="1 1.6"/>
<line x1="404" y1="21.94" x2="685.3" y2="21.94" stroke="#dcdcdc" stroke-width="0.8" stroke-dasharray="1 1.6"/>
<line x1="401.2" y1="218.2" x2="404" y2="218.2" stroke="#333" stroke-width="1" />
<line x1="682.5" y1="218.2" x2="685.3" y2="218.2" stroke="#333" stroke-width="1" />
<line x1="399.2" y1="206.66" x2="404" y2="206.66" stroke="#333" stroke-width="1" />
<line x1="680.5" y1="206.66" x2="685.3" y2="206.66" stroke="#333" stroke-width="1" />
<text x="397.2" y="210.36" font-size="10.5" text-anchor="end" fill="#222" font-weight="normal" >-8</text>
<line x1="401.2" y1="195.11" x2="404" y2="195.11" stroke="#333" stroke-width="1" />
<line x1="682.5" y1="195.11" x2="685.3" y2="195.11" stroke="#333" stroke-width="1" />
<line x1="399.2" y1="183.57" x2="404" y2="183.57" stroke="#333" stroke-width="1" />
<line x1="680.5" y1="183.57" x2="685.3" y2="183.57" stroke="#333" stroke-width="1" />
<text x="397.2" y="187.27" font-size="10.5" text-anchor="end" fill="#222" font-weight="normal" >-6</text>
<line x1="401.2" y1="172.02" x2="404" y2="172.02" stroke="#333" stroke-width="1" />
<line x1="682.5" y1="172.02" x2="685.3" y2="172.02" stroke="#333" stroke-width="1" />
<line x1="399.2" y1="160.48" x2="404" y2="160.48" stroke="#333" stroke-width="1" />
<line x1="680.5" y1="160.48" x2="685.3" y2="160.48" stroke="#333" stroke-width="1" />
<text x="397.2" y="164.18" font-size="10.5" text-anchor="end" fill="#222" font-weight="normal" >-4</text>
<line x1="401.2" y1="148.93" x2="404" y2="148.93" stroke="#333" stroke-width="1" />
<line x1="682.5" y1="148.93" x2="685.3" y2="148.93" stroke="#333" stroke-width="1" />
<line x1="399.2" y1="137.39" x2="404" y2="137.39" stroke="#333" stroke-width="1" />
<line x1="680.5" y1="137.39" x2="685.3" y2="137.39" stroke="#333" stroke-width="1" />
<text x="397.2" y="141.09" font-size="10.5" text-anchor="end" fill="#222" font-weight="normal" >-2</text>
<line x1="401.2" y1="125.84" x2="404" y2="125.84" stroke="#333" stroke-width="1" />
<line x1="682.5" y1="125.84" x2="685.3" y2="125.84" stroke="#333" stroke-width="1" />
<line x1="399.2" y1="114.3" x2="404" y2="114.3" stroke="#333" stroke-width="1" />
<line x1="680.5" y1="114.3" x2="685.3" y2="114.3" stroke="#333" stroke-width="1" />
<text x="397.2" y="118" font-size="10.5" text-anchor="end" fill="#222" font-weight="normal" >0</text>
<line x1="401.2" y1="102.76" x2="404" y2="102.76" stroke="#333" stroke-width="1" />
<line x1="682.5" y1="102.76" x2="685.3" y2="102.76" stroke="#333" stroke-width="1" />
<line x1="399.2" y1="91.21" x2="404" y2="91.21" stroke="#333" stroke-width="1" />
<line x1="680.5" y1="91.21" x2="685.3" y2="91.21" stroke="#333" stroke-width="1" />
<text x="397.2" y="94.91" font-size="10.5" text-anchor="end" fill="#222" font-weight="normal" >2</text>
<line x1="401.2" y1="79.67" x2="404" y2="79.67" stroke="#333" stroke-width="1" />
<line x1="682.5" y1="79.67" x2="685.3" y2="79.67" stroke="#333" stroke-width="1" />
<line x1="399.2" y1="68.12" x2="404" y2="68.12" stroke="#333" stroke-width="1" />
<line x1="680.5" y1="68.12" x2="685.3" y2="68.12" stroke="#333" stroke-width="1" />
<text x="397.2" y="71.82" font-size="10.5" text-anchor="end" fill="#222" font-weight="normal" >4</text>
<line x1="401.2" y1="56.58" x2="404" y2="56.58" stroke="#333" stroke-width="1" />
<line x1="682.5" y1="56.58" x2="685.3" y2="56.58" stroke="#333" stroke-width="1" />
<line x1="399.2" y1="45.03" x2="404" y2="45.03" stroke="#333" stroke-width="1" />
<line x1="680.5" y1="45.03" x2="685.3" y2="45.03" stroke="#333" stroke-width="1" />
<text x="397.2" y="48.73" font-size="10.5" text-anchor="end" fill="#222" font-weight="normal" >6</text>
<line x1="401.2" y1="33.49" x2="404" y2="33.49" stroke="#333" stroke-width="1" />
<line x1="682.5" y1="33.49" x2="685.3" y2="33.49" stroke="#333" stroke-width="1" />
<line x1="399.2" y1="21.94" x2="404" y2="21.94" stroke="#333" stroke-width="1" />
<line x1="680.5" y1="21.94" x2="685.3" y2="21.94" stroke="#333" stroke-width="1" />
<text x="397.2" y="25.64" font-size="10.5" text-anchor="end" fill="#222" font-weight="normal" >8</text>
<line x1="401.2" y1="10.4" x2="404" y2="10.4" stroke="#333" stroke-width="1" />
<line x1="682.5" y1="10.4" x2="685.3" y2="10.4" stroke="#333" stroke-width="1" />
<line x1="404" y1="218.2" x2="404" y2="223" stroke="#333" stroke-width="1" />
<line x1="404" y1="10.4" x2="404" y2="15.2" stroke="#333" stroke-width="1" />
<text x="404" y="234.3" font-size="10.5" text-anchor="middle" fill="#222" font-weight="normal" >-1,2</text>
<line x1="421.58" y1="218.2" x2="421.58" y2="221" stroke="#333" stroke-width="1" />
<line x1="421.58" y1="10.4" x2="421.58" y2="13.2" stroke="#333" stroke-width="1" />
<line x1="439.16" y1="218.2" x2="439.16" y2="223" stroke="#333" stroke-width="1" />
<line x1="439.16" y1="10.4" x2="439.16" y2="15.2" stroke="#333" stroke-width="1" />
<text x="439.16" y="234.3" font-size="10.5" text-anchor="middle" fill="#222" font-weight="normal" >-0,9</text>
<line x1="456.74" y1="218.2" x2="456.74" y2="221" stroke="#333" stroke-width="1" />
<line x1="456.74" y1="10.4" x2="456.74" y2="13.2" stroke="#333" stroke-width="1" />
<line x1="474.32" y1="218.2" x2="474.32" y2="223" stroke="#333" stroke-width="1" />
<line x1="474.32" y1="10.4" x2="474.32" y2="15.2" stroke="#333" stroke-width="1" />
<text x="474.32" y="234.3" font-size="10.5" text-anchor="middle" fill="#222" font-weight="normal" >-0,6</text>
<line x1="491.91" y1="218.2" x2="491.91" y2="221" stroke="#333" stroke-width="1" />
<line x1="491.91" y1="10.4" x2="491.91" y2="13.2" stroke="#333" stroke-width="1" />
<line x1="509.49" y1="218.2" x2="509.49" y2="223" stroke="#333" stroke-width="1" />
<line x1="509.49" y1="10.4" x2="509.49" y2="15.2" stroke="#333" stroke-width="1" />
<text x="509.49" y="234.3" font-size="10.5" text-anchor="middle" fill="#222" font-weight="normal" >-0,3</text>
<line x1="527.07" y1="218.2" x2="527.07" y2="221" stroke="#333" stroke-width="1" />
<line x1="527.07" y1="10.4" x2="527.07" y2="13.2" stroke="#333" stroke-width="1" />
<line x1="544.65" y1="218.2" x2="544.65" y2="223" stroke="#333" stroke-width="1" />
<line x1="544.65" y1="10.4" x2="544.65" y2="15.2" stroke="#333" stroke-width="1" />
<text x="544.65" y="234.3" font-size="10.5" text-anchor="middle" fill="#222" font-weight="normal" >0,0</text>
<line x1="562.23" y1="218.2" x2="562.23" y2="221" stroke="#333" stroke-width="1" />
<line x1="562.23" y1="10.4" x2="562.23" y2="13.2" stroke="#333" stroke-width="1" />
<line x1="579.81" y1="218.2" x2="579.81" y2="223" stroke="#333" stroke-width="1" />
<line x1="579.81" y1="10.4" x2="579.81" y2="15.2" stroke="#333" stroke-width="1" />
<text x="579.81" y="234.3" font-size="10.5" text-anchor="middle" fill="#222" font-weight="normal" >0,3</text>
<line x1="597.39" y1="218.2" x2="597.39" y2="221" stroke="#333" stroke-width="1" />
<line x1="597.39" y1="10.4" x2="597.39" y2="13.2" stroke="#333" stroke-width="1" />
<line x1="614.97" y1="218.2" x2="614.97" y2="223" stroke="#333" stroke-width="1" />
<line x1="614.97" y1="10.4" x2="614.97" y2="15.2" stroke="#333" stroke-width="1" />
<text x="614.97" y="234.3" font-size="10.5" text-anchor="middle" fill="#222" font-weight="normal" >0,6</text>
<line x1="632.56" y1="218.2" x2="632.56" y2="221" stroke="#333" stroke-width="1" />
<line x1="632.56" y1="10.4" x2="632.56" y2="13.2" stroke="#333" stroke-width="1" />
<line x1="650.14" y1="218.2" x2="650.14" y2="223" stroke="#333" stroke-width="1" />
<line x1="650.14" y1="10.4" x2="650.14" y2="15.2" stroke="#333" stroke-width="1" />
<text x="650.14" y="234.3" font-size="10.5" text-anchor="middle" fill="#222" font-weight="normal" >0,9</text>
<line x1="667.72" y1="218.2" x2="667.72" y2="221" stroke="#333" stroke-width="1" />
<line x1="667.72" y1="10.4" x2="667.72" y2="13.2" stroke="#333" stroke-width="1" />
<line x1="685.3" y1="218.2" x2="685.3" y2="223" stroke="#333" stroke-width="1" />
<line x1="685.3" y1="10.4" x2="685.3" y2="15.2" stroke="#333" stroke-width="1" />
<text x="685.3" y="234.3" font-size="10.5" text-anchor="middle" fill="#222" font-weight="normal" >1,2</text>
<text x="545.2" y="254.6" font-size="13.3" text-anchor="middle" fill="#222" font-weight="normal" >U (V)</text>
<text x="0" y="0" font-size="13" text-anchor="middle" fill="#222" font-weight="normal" transform="translate(368.6,125.9) rotate(-90)">I (µA)</text>
<text x="359" y="12.7" font-size="16" text-anchor="start" fill="#000" font-weight="bold" >b)</text>
<polyline points="427.44,116.03 450.88,115.78 474.32,115.52 497.77,115.27 521.21,115.02 532.93,114.89 535.27,114.86 537.62,114.84 539.96,114.81 542.31,114.79 544.65,114.76 546.99,114.74 549.34,114.71 551.68,114.69 554.03,114.66 556.37,114.63 568.09,114.51 591.53,114.25 614.97,114 638.42,113.75 661.86,113.49" fill="none" stroke="#1428e6" stroke-width="1.1" stroke-linejoin="round" />
<polygon points="427.44,118.23 425.02,114.05 429.86,114.05" fill="#1428e6" stroke="#1428e6" stroke-width="1.2" />
<polygon points="450.88,117.98 448.46,113.8 453.3,113.8" fill="#1428e6" stroke="#1428e6" stroke-width="1.2" />
<polygon points="474.32,117.72 471.9,113.54 476.75,113.54" fill="#1428e6" stroke="#1428e6" stroke-width="1.2" />
<polygon points="497.77,117.47 495.35,113.29 500.19,113.29" fill="#1428e6" stroke="#1428e6" stroke-width="1.2" />
<polygon points="521.21,117.22 518.79,113.04 523.63,113.04" fill="#1428e6" stroke="#1428e6" stroke-width="1.2" />
<polygon points="532.93,117.09 530.51,112.91 535.35,112.91" fill="#1428e6" stroke="#1428e6" stroke-width="1.2" />
<polygon points="535.27,117.06 532.85,112.88 537.69,112.88" fill="#1428e6" stroke="#1428e6" stroke-width="1.2" />
<polygon points="537.62,117.04 535.2,112.86 540.04,112.86" fill="#1428e6" stroke="#1428e6" stroke-width="1.2" />
<polygon points="539.96,117.01 537.54,112.83 542.38,112.83" fill="#1428e6" stroke="#1428e6" stroke-width="1.2" />
<polygon points="542.31,116.99 539.89,112.81 544.73,112.81" fill="#1428e6" stroke="#1428e6" stroke-width="1.2" />
<polygon points="544.65,116.96 542.23,112.78 547.07,112.78" fill="#1428e6" stroke="#1428e6" stroke-width="1.2" />
<polygon points="546.99,116.94 544.57,112.76 549.41,112.76" fill="#1428e6" stroke="#1428e6" stroke-width="1.2" />
<polygon points="549.34,116.91 546.92,112.73 551.76,112.73" fill="#1428e6" stroke="#1428e6" stroke-width="1.2" />
<polygon points="551.68,116.89 549.26,112.71 554.1,112.71" fill="#1428e6" stroke="#1428e6" stroke-width="1.2" />
<polygon points="554.03,116.86 551.61,112.68 556.45,112.68" fill="#1428e6" stroke="#1428e6" stroke-width="1.2" />
<polygon points="556.37,116.83 553.95,112.65 558.79,112.65" fill="#1428e6" stroke="#1428e6" stroke-width="1.2" />
<polygon points="568.09,116.71 565.67,112.53 570.51,112.53" fill="#1428e6" stroke="#1428e6" stroke-width="1.2" />
<polygon points="591.53,116.45 589.11,112.27 593.95,112.27" fill="#1428e6" stroke="#1428e6" stroke-width="1.2" />
<polygon points="614.97,116.2 612.55,112.02 617.39,112.02" fill="#1428e6" stroke="#1428e6" stroke-width="1.2" />
<polygon points="638.42,115.95 636,111.77 640.84,111.77" fill="#1428e6" stroke="#1428e6" stroke-width="1.2" />
<polygon points="661.86,115.69 659.44,111.51 664.28,111.51" fill="#1428e6" stroke="#1428e6" stroke-width="1.2" />
<polyline points="427.44,114.65 450.88,114.58 474.32,114.51 497.77,114.44 521.21,114.37 532.93,114.33 535.27,114.33 537.62,114.32 539.96,114.31 542.31,114.31 544.65,114.3 546.99,114.29 549.34,114.29 551.68,114.28 554.03,114.27 556.37,114.27 568.09,114.23 591.53,114.16 614.97,114.09 638.42,114.02 661.86,113.95" fill="none" stroke="#111" stroke-width="1.1" stroke-linejoin="round" />
<polygon points="427.44,112.45 425.02,116.63 429.86,116.63" fill="#111" stroke="#111" stroke-width="1.2" />
<polygon points="450.88,112.38 448.46,116.56 453.3,116.56" fill="#111" stroke="#111" stroke-width="1.2" />
<polygon points="474.32,112.31 471.9,116.49 476.75,116.49" fill="#111" stroke="#111" stroke-width="1.2" />
<polygon points="497.77,112.24 495.35,116.42 500.19,116.42" fill="#111" stroke="#111" stroke-width="1.2" />
<polygon points="521.21,112.17 518.79,116.35 523.63,116.35" fill="#111" stroke="#111" stroke-width="1.2" />
<polygon points="532.93,112.13 530.51,116.31 535.35,116.31" fill="#111" stroke="#111" stroke-width="1.2" />
<polygon points="535.27,112.13 532.85,116.31 537.69,116.31" fill="#111" stroke="#111" stroke-width="1.2" />
<polygon points="537.62,112.12 535.2,116.3 540.04,116.3" fill="#111" stroke="#111" stroke-width="1.2" />
<polygon points="539.96,112.11 537.54,116.29 542.38,116.29" fill="#111" stroke="#111" stroke-width="1.2" />
<polygon points="542.31,112.11 539.89,116.29 544.73,116.29" fill="#111" stroke="#111" stroke-width="1.2" />
<polygon points="544.65,112.1 542.23,116.28 547.07,116.28" fill="#111" stroke="#111" stroke-width="1.2" />
<polygon points="546.99,112.09 544.57,116.27 549.41,116.27" fill="#111" stroke="#111" stroke-width="1.2" />
<polygon points="549.34,112.09 546.92,116.27 551.76,116.27" fill="#111" stroke="#111" stroke-width="1.2" />
<polygon points="551.68,112.08 549.26,116.26 554.1,116.26" fill="#111" stroke="#111" stroke-width="1.2" />
<polygon points="554.03,112.07 551.61,116.25 556.45,116.25" fill="#111" stroke="#111" stroke-width="1.2" />
<polygon points="556.37,112.07 553.95,116.25 558.79,116.25" fill="#111" stroke="#111" stroke-width="1.2" />
<polygon points="568.09,112.03 565.67,116.21 570.51,116.21" fill="#111" stroke="#111" stroke-width="1.2" />
<polygon points="591.53,111.96 589.11,116.14 593.95,116.14" fill="#111" stroke="#111" stroke-width="1.2" />
<polygon points="614.97,111.89 612.55,116.07 617.39,116.07" fill="#111" stroke="#111" stroke-width="1.2" />
<polygon points="638.42,111.82 636,116 640.84,116" fill="#111" stroke="#111" stroke-width="1.2" />
<polygon points="661.86,111.75 659.44,115.93 664.28,115.93" fill="#111" stroke="#111" stroke-width="1.2" />
<polyline points="427.44,114.3 450.88,114.3 474.32,114.3 497.77,114.3 521.21,114.3 532.93,114.3 535.27,114.3 537.62,114.3 539.96,114.3 542.31,114.3 544.65,114.3 546.99,114.3 549.34,114.3 551.68,114.3 554.03,114.3 556.37,114.3 568.09,114.3 591.53,114.3 614.97,114.3 638.42,114.3 661.86,114.3" fill="none" stroke="#c01515" stroke-width="1.1" stroke-linejoin="round" />
<circle cx="427.44" cy="114.3" r="2.2" fill="#c01515" stroke="#c01515" stroke-width="1.2"/>
<circle cx="450.88" cy="114.3" r="2.2" fill="#c01515" stroke="#c01515" stroke-width="1.2"/>
<circle cx="474.32" cy="114.3" r="2.2" fill="#c01515" stroke="#c01515" stroke-width="1.2"/>
<circle cx="497.77" cy="114.3" r="2.2" fill="#c01515" stroke="#c01515" stroke-width="1.2"/>
<circle cx="521.21" cy="114.3" r="2.2" fill="#c01515" stroke="#c01515" stroke-width="1.2"/>
<circle cx="532.93" cy="114.3" r="2.2" fill="#c01515" stroke="#c01515" stroke-width="1.2"/>
<circle cx="535.27" cy="114.3" r="2.2" fill="#c01515" stroke="#c01515" stroke-width="1.2"/>
<circle cx="537.62" cy="114.3" r="2.2" fill="#c01515" stroke="#c01515" stroke-width="1.2"/>
<circle cx="539.96" cy="114.3" r="2.2" fill="#c01515" stroke="#c01515" stroke-width="1.2"/>
<circle cx="542.31" cy="114.3" r="2.2" fill="#c01515" stroke="#c01515" stroke-width="1.2"/>
<circle cx="544.65" cy="114.3" r="2.2" fill="#c01515" stroke="#c01515" stroke-width="1.2"/>
<circle cx="546.99" cy="114.3" r="2.2" fill="#c01515" stroke="#c01515" stroke-width="1.2"/>
<circle cx="549.34" cy="114.3" r="2.2" fill="#c01515" stroke="#c01515" stroke-width="1.2"/>
<circle cx="551.68" cy="114.3" r="2.2" fill="#c01515" stroke="#c01515" stroke-width="1.2"/>
<circle cx="554.03" cy="114.3" r="2.2" fill="#c01515" stroke="#c01515" stroke-width="1.2"/>
<circle cx="556.37" cy="114.3" r="2.2" fill="#c01515" stroke="#c01515" stroke-width="1.2"/>
<circle cx="568.09" cy="114.3" r="2.2" fill="#c01515" stroke="#c01515" stroke-width="1.2"/>
<circle cx="591.53" cy="114.3" r="2.2" fill="#c01515" stroke="#c01515" stroke-width="1.2"/>
<circle cx="614.97" cy="114.3" r="2.2" fill="#c01515" stroke="#c01515" stroke-width="1.2"/>
<circle cx="638.42" cy="114.3" r="2.2" fill="#c01515" stroke="#c01515" stroke-width="1.2"/>
<circle cx="661.86" cy="114.3" r="2.2" fill="#c01515" stroke="#c01515" stroke-width="1.2"/>
<polyline points="427.44,119.67 450.88,118.64 474.32,117.61 497.77,116.59 521.21,115.56 532.93,115.04 535.27,114.94 537.62,114.84 539.96,114.74 542.31,114.63 544.65,114.53 546.99,114.43 549.34,114.33 551.68,114.22 554.03,114.12 556.37,114.02 568.09,113.5 591.53,112.48 614.97,111.45 638.42,110.42 661.86,109.39" fill="none" stroke="#a02020" stroke-width="1.1" stroke-linejoin="round" />
<polygon points="427.44,116.97 430.14,119.67 427.44,122.37 424.74,119.67" fill="#7a0a0a" stroke="#7a0a0a" stroke-width="1.2" />
<polygon points="450.88,115.94 453.58,118.64 450.88,121.34 448.18,118.64" fill="#7a0a0a" stroke="#7a0a0a" stroke-width="1.2" />
<polygon points="474.32,114.91 477.02,117.61 474.32,120.31 471.62,117.61" fill="#7a0a0a" stroke="#7a0a0a" stroke-width="1.2" />
<polygon points="497.77,113.89 500.47,116.59 497.77,119.29 495.07,116.59" fill="#7a0a0a" stroke="#7a0a0a" stroke-width="1.2" />
<polygon points="521.21,112.86 523.91,115.56 521.21,118.26 518.51,115.56" fill="#7a0a0a" stroke="#7a0a0a" stroke-width="1.2" />
<polygon points="532.93,112.34 535.63,115.04 532.93,117.74 530.23,115.04" fill="#7a0a0a" stroke="#7a0a0a" stroke-width="1.2" />
<polygon points="535.27,112.24 537.97,114.94 535.27,117.64 532.57,114.94" fill="#7a0a0a" stroke="#7a0a0a" stroke-width="1.2" />
<polygon points="537.62,112.14 540.32,114.84 537.62,117.54 534.92,114.84" fill="#7a0a0a" stroke="#7a0a0a" stroke-width="1.2" />
<polygon points="539.96,112.04 542.66,114.74 539.96,117.44 537.26,114.74" fill="#7a0a0a" stroke="#7a0a0a" stroke-width="1.2" />
<polygon points="542.31,111.93 545.01,114.63 542.31,117.33 539.61,114.63" fill="#7a0a0a" stroke="#7a0a0a" stroke-width="1.2" />
<polygon points="544.65,111.83 547.35,114.53 544.65,117.23 541.95,114.53" fill="#7a0a0a" stroke="#7a0a0a" stroke-width="1.2" />
<polygon points="546.99,111.73 549.69,114.43 546.99,117.13 544.29,114.43" fill="#7a0a0a" stroke="#7a0a0a" stroke-width="1.2" />
<polygon points="549.34,111.63 552.04,114.33 549.34,117.03 546.64,114.33" fill="#7a0a0a" stroke="#7a0a0a" stroke-width="1.2" />
<polygon points="551.68,111.52 554.38,114.22 551.68,116.92 548.98,114.22" fill="#7a0a0a" stroke="#7a0a0a" stroke-width="1.2" />
<polygon points="554.03,111.42 556.73,114.12 554.03,116.82 551.33,114.12" fill="#7a0a0a" stroke="#7a0a0a" stroke-width="1.2" />
<polygon points="556.37,111.32 559.07,114.02 556.37,116.72 553.67,114.02" fill="#7a0a0a" stroke="#7a0a0a" stroke-width="1.2" />
<polygon points="568.09,110.8 570.79,113.5 568.09,116.2 565.39,113.5" fill="#7a0a0a" stroke="#7a0a0a" stroke-width="1.2" />
<polygon points="591.53,109.78 594.23,112.48 591.53,115.18 588.83,112.48" fill="#7a0a0a" stroke="#7a0a0a" stroke-width="1.2" />
<polygon points="614.97,108.75 617.67,111.45 614.97,114.15 612.27,111.45" fill="#7a0a0a" stroke="#7a0a0a" stroke-width="1.2" />
<polygon points="638.42,107.72 641.12,110.42 638.42,113.12 635.72,110.42" fill="#7a0a0a" stroke="#7a0a0a" stroke-width="1.2" />
<polygon points="661.86,106.69 664.56,109.39 661.86,112.09 659.16,109.39" fill="#7a0a0a" stroke="#7a0a0a" stroke-width="1.2" />
<polyline points="427.44,130.81 450.88,127.58 474.32,124.34 497.77,121.11 521.21,117.88 532.93,116.26 535.27,115.94 537.62,115.62 539.96,115.29 542.31,114.97 544.65,114.65 546.99,114.32 549.34,114 551.68,113.68 554.03,113.35 556.37,113.03 568.09,111.41 591.53,108.18 614.97,104.95 638.42,101.72 661.86,98.48" fill="none" stroke="#ff22ff" stroke-width="1.1" stroke-linejoin="round" />
<polygon points="424.64,130.81 429.96,127.73 429.96,133.89" fill="#ff22ff" stroke="#ff22ff" stroke-width="1.2" />
<polygon points="448.08,127.58 453.4,124.5 453.4,130.66" fill="#ff22ff" stroke="#ff22ff" stroke-width="1.2" />
<polygon points="471.52,124.34 476.84,121.26 476.84,127.42" fill="#ff22ff" stroke="#ff22ff" stroke-width="1.2" />
<polygon points="494.97,121.11 500.29,118.03 500.29,124.19" fill="#ff22ff" stroke="#ff22ff" stroke-width="1.2" />
<polygon points="518.41,117.88 523.73,114.8 523.73,120.96" fill="#ff22ff" stroke="#ff22ff" stroke-width="1.2" />
<polygon points="530.13,116.26 535.45,113.18 535.45,119.34" fill="#ff22ff" stroke="#ff22ff" stroke-width="1.2" />
<polygon points="532.47,115.94 537.79,112.86 537.79,119.02" fill="#ff22ff" stroke="#ff22ff" stroke-width="1.2" />
<polygon points="534.82,115.62 540.14,112.54 540.14,118.7" fill="#ff22ff" stroke="#ff22ff" stroke-width="1.2" />
<polygon points="537.16,115.29 542.48,112.21 542.48,118.37" fill="#ff22ff" stroke="#ff22ff" stroke-width="1.2" />
<polygon points="539.51,114.97 544.83,111.89 544.83,118.05" fill="#ff22ff" stroke="#ff22ff" stroke-width="1.2" />
<polygon points="541.85,114.65 547.17,111.57 547.17,117.73" fill="#ff22ff" stroke="#ff22ff" stroke-width="1.2" />
<polygon points="544.19,114.32 549.51,111.24 549.51,117.4" fill="#ff22ff" stroke="#ff22ff" stroke-width="1.2" />
<polygon points="546.54,114 551.86,110.92 551.86,117.08" fill="#ff22ff" stroke="#ff22ff" stroke-width="1.2" />
<polygon points="548.88,113.68 554.2,110.6 554.2,116.76" fill="#ff22ff" stroke="#ff22ff" stroke-width="1.2" />
<polygon points="551.23,113.35 556.55,110.27 556.55,116.43" fill="#ff22ff" stroke="#ff22ff" stroke-width="1.2" />
<polygon points="553.57,113.03 558.89,109.95 558.89,116.11" fill="#ff22ff" stroke="#ff22ff" stroke-width="1.2" />
<polygon points="565.29,111.41 570.61,108.33 570.61,114.49" fill="#ff22ff" stroke="#ff22ff" stroke-width="1.2" />
<polygon points="588.73,108.18 594.05,105.1 594.05,111.26" fill="#ff22ff" stroke="#ff22ff" stroke-width="1.2" />
<polygon points="612.17,104.95 617.49,101.87 617.49,108.03" fill="#ff22ff" stroke="#ff22ff" stroke-width="1.2" />
<polygon points="635.62,101.72 640.94,98.64 640.94,104.8" fill="#ff22ff" stroke="#ff22ff" stroke-width="1.2" />
<polygon points="659.06,98.48 664.38,95.4 664.38,101.56" fill="#ff22ff" stroke="#ff22ff" stroke-width="1.2" />
<polyline points="427.44,151.01 450.88,143.74 474.32,136.47 497.77,129.19 521.21,121.92 532.93,118.28 535.27,117.56 537.62,116.83 539.96,116.1 542.31,115.37 544.65,114.65 546.99,113.92 549.34,113.19 551.68,112.46 554.03,111.74 556.37,111.01 568.09,107.37 591.53,100.1 614.97,92.83 638.42,85.55 661.86,78.28" fill="none" stroke="#7d1290" stroke-width="1.1" stroke-linejoin="round" />
<polygon points="430.24,151.01 424.92,147.93 424.92,154.09" fill="#7d1290" stroke="#7d1290" stroke-width="1.2" />
<polygon points="453.68,143.74 448.36,140.66 448.36,146.82" fill="#7d1290" stroke="#7d1290" stroke-width="1.2" />
<polygon points="477.12,136.47 471.81,133.39 471.81,139.55" fill="#7d1290" stroke="#7d1290" stroke-width="1.2" />
<polygon points="500.57,129.19 495.25,126.11 495.25,132.27" fill="#7d1290" stroke="#7d1290" stroke-width="1.2" />
<polygon points="524.01,121.92 518.69,118.84 518.69,125" fill="#7d1290" stroke="#7d1290" stroke-width="1.2" />
<polygon points="535.73,118.28 530.41,115.2 530.41,121.36" fill="#7d1290" stroke="#7d1290" stroke-width="1.2" />
<polygon points="538.07,117.56 532.75,114.48 532.75,120.64" fill="#7d1290" stroke="#7d1290" stroke-width="1.2" />
<polygon points="540.42,116.83 535.1,113.75 535.1,119.91" fill="#7d1290" stroke="#7d1290" stroke-width="1.2" />
<polygon points="542.76,116.1 537.44,113.02 537.44,119.18" fill="#7d1290" stroke="#7d1290" stroke-width="1.2" />
<polygon points="545.11,115.37 539.79,112.29 539.79,118.45" fill="#7d1290" stroke="#7d1290" stroke-width="1.2" />
<polygon points="547.45,114.65 542.13,111.57 542.13,117.73" fill="#7d1290" stroke="#7d1290" stroke-width="1.2" />
<polygon points="549.79,113.92 544.47,110.84 544.47,117" fill="#7d1290" stroke="#7d1290" stroke-width="1.2" />
<polygon points="552.14,113.19 546.82,110.11 546.82,116.27" fill="#7d1290" stroke="#7d1290" stroke-width="1.2" />
<polygon points="554.48,112.46 549.16,109.38 549.16,115.54" fill="#7d1290" stroke="#7d1290" stroke-width="1.2" />
<polygon points="556.83,111.74 551.51,108.66 551.51,114.82" fill="#7d1290" stroke="#7d1290" stroke-width="1.2" />
<polygon points="559.17,111.01 553.85,107.93 553.85,114.09" fill="#7d1290" stroke="#7d1290" stroke-width="1.2" />
<polygon points="570.89,107.37 565.57,104.29 565.57,110.45" fill="#7d1290" stroke="#7d1290" stroke-width="1.2" />
<polygon points="594.33,100.1 589.01,97.02 589.01,103.18" fill="#7d1290" stroke="#7d1290" stroke-width="1.2" />
<polygon points="617.77,92.83 612.45,89.75 612.45,95.91" fill="#7d1290" stroke="#7d1290" stroke-width="1.2" />
<polygon points="641.22,85.55 635.9,82.47 635.9,88.63" fill="#7d1290" stroke="#7d1290" stroke-width="1.2" />
<polygon points="664.66,78.28 659.34,75.2 659.34,81.36" fill="#7d1290" stroke="#7d1290" stroke-width="1.2" />
<polyline points="427.44,201.11 450.88,183.91 474.32,166.71 497.77,149.51 521.21,132.31 532.93,123.71 535.27,121.99 537.62,120.27 539.96,118.55 542.31,116.83 544.65,115.11 546.99,113.39 549.34,111.67 551.68,109.95 554.03,108.23 556.37,106.51 568.09,97.91 591.53,80.71 614.97,63.5 638.42,46.3 661.86,29.1" fill="none" stroke="#9a9030" stroke-width="1.1" stroke-linejoin="round" />
<circle cx="427.44" cy="201.11" r="2.8" fill="#86861a" stroke="#86861a" stroke-width="1.2"/>
<circle cx="450.88" cy="183.91" r="2.8" fill="#86861a" stroke="#86861a" stroke-width="1.2"/>
<circle cx="474.32" cy="166.71" r="2.8" fill="#86861a" stroke="#86861a" stroke-width="1.2"/>
<circle cx="497.77" cy="149.51" r="2.8" fill="#86861a" stroke="#86861a" stroke-width="1.2"/>
<circle cx="521.21" cy="132.31" r="2.8" fill="#86861a" stroke="#86861a" stroke-width="1.2"/>
<circle cx="532.93" cy="123.71" r="2.8" fill="#86861a" stroke="#86861a" stroke-width="1.2"/>
<circle cx="535.27" cy="121.99" r="2.8" fill="#86861a" stroke="#86861a" stroke-width="1.2"/>
<circle cx="537.62" cy="120.27" r="2.8" fill="#86861a" stroke="#86861a" stroke-width="1.2"/>
<circle cx="539.96" cy="118.55" r="2.8" fill="#86861a" stroke="#86861a" stroke-width="1.2"/>
<circle cx="542.31" cy="116.83" r="2.8" fill="#86861a" stroke="#86861a" stroke-width="1.2"/>
<circle cx="544.65" cy="115.11" r="2.8" fill="#86861a" stroke="#86861a" stroke-width="1.2"/>
<circle cx="546.99" cy="113.39" r="2.8" fill="#86861a" stroke="#86861a" stroke-width="1.2"/>
<circle cx="549.34" cy="111.67" r="2.8" fill="#86861a" stroke="#86861a" stroke-width="1.2"/>
<circle cx="551.68" cy="109.95" r="2.8" fill="#86861a" stroke="#86861a" stroke-width="1.2"/>
<circle cx="554.03" cy="108.23" r="2.8" fill="#86861a" stroke="#86861a" stroke-width="1.2"/>
<circle cx="556.37" cy="106.51" r="2.8" fill="#86861a" stroke="#86861a" stroke-width="1.2"/>
<circle cx="568.09" cy="97.91" r="2.8" fill="#86861a" stroke="#86861a" stroke-width="1.2"/>
<circle cx="591.53" cy="80.71" r="2.8" fill="#86861a" stroke="#86861a" stroke-width="1.2"/>
<circle cx="614.97" cy="63.5" r="2.8" fill="#86861a" stroke="#86861a" stroke-width="1.2"/>
<circle cx="638.42" cy="46.3" r="2.8" fill="#86861a" stroke="#86861a" stroke-width="1.2"/>
<circle cx="661.86" cy="29.1" r="2.8" fill="#86861a" stroke="#86861a" stroke-width="1.2"/>
<rect x="405" y="14.6" width="128" height="93.6" fill="#fff"/>
<line x1="446.27" y1="16.5" x2="446.27" y2="85.7" stroke="#e0e0e0" stroke-width="0.6" stroke-dasharray="0.8 1.5"/>
<line x1="465.71" y1="16.5" x2="465.71" y2="85.7" stroke="#e0e0e0" stroke-width="0.6" stroke-dasharray="0.8 1.5"/>
<line x1="485.15" y1="16.5" x2="485.15" y2="85.7" stroke="#e0e0e0" stroke-width="0.6" stroke-dasharray="0.8 1.5"/>
<line x1="504.59" y1="16.5" x2="504.59" y2="85.7" stroke="#e0e0e0" stroke-width="0.6" stroke-dasharray="0.8 1.5"/>
<line x1="524.02" y1="16.5" x2="524.02" y2="85.7" stroke="#e0e0e0" stroke-width="0.6" stroke-dasharray="0.8 1.5"/>
<line x1="438.5" y1="68.4" x2="531.8" y2="68.4" stroke="#e0e0e0" stroke-width="0.6" stroke-dasharray="0.8 1.5"/>
<line x1="438.5" y1="51.1" x2="531.8" y2="51.1" stroke="#e0e0e0" stroke-width="0.6" stroke-dasharray="0.8 1.5"/>
<line x1="438.5" y1="33.8" x2="531.8" y2="33.8" stroke="#e0e0e0" stroke-width="0.6" stroke-dasharray="0.8 1.5"/>
<rect x="438.5" y="16.5" width="93.29999999999995" height="69.2" fill="none" stroke="#555" stroke-width="0.8"/>
<line x1="436.5" y1="85.7" x2="438.5" y2="85.7" stroke="#555" stroke-width="0.6" />
<line x1="529.8" y1="85.7" x2="531.8" y2="85.7" stroke="#555" stroke-width="0.6" />
<text x="436.3" y="88" font-size="6.6" text-anchor="end" fill="#222" font-weight="normal"  class="sm">-100</text>
<line x1="437.3" y1="77.05" x2="438.5" y2="77.05" stroke="#555" stroke-width="0.6" />
<line x1="530.6" y1="77.05" x2="531.8" y2="77.05" stroke="#555" stroke-width="0.6" />
<line x1="436.5" y1="68.4" x2="438.5" y2="68.4" stroke="#555" stroke-width="0.6" />
<line x1="529.8" y1="68.4" x2="531.8" y2="68.4" stroke="#555" stroke-width="0.6" />
<text x="436.3" y="70.7" font-size="6.6" text-anchor="end" fill="#222" font-weight="normal"  class="sm">-50</text>
<line x1="437.3" y1="59.75" x2="438.5" y2="59.75" stroke="#555" stroke-width="0.6" />
<line x1="530.6" y1="59.75" x2="531.8" y2="59.75" stroke="#555" stroke-width="0.6" />
<line x1="436.5" y1="51.1" x2="438.5" y2="51.1" stroke="#555" stroke-width="0.6" />
<line x1="529.8" y1="51.1" x2="531.8" y2="51.1" stroke="#555" stroke-width="0.6" />
<text x="436.3" y="53.4" font-size="6.6" text-anchor="end" fill="#222" font-weight="normal"  class="sm">0</text>
<line x1="437.3" y1="42.45" x2="438.5" y2="42.45" stroke="#555" stroke-width="0.6" />
<line x1="530.6" y1="42.45" x2="531.8" y2="42.45" stroke="#555" stroke-width="0.6" />
<line x1="436.5" y1="33.8" x2="438.5" y2="33.8" stroke="#555" stroke-width="0.6" />
<line x1="529.8" y1="33.8" x2="531.8" y2="33.8" stroke="#555" stroke-width="0.6" />
<text x="436.3" y="36.1" font-size="6.6" text-anchor="end" fill="#222" font-weight="normal"  class="sm">50</text>
<line x1="437.3" y1="25.15" x2="438.5" y2="25.15" stroke="#555" stroke-width="0.6" />
<line x1="530.6" y1="25.15" x2="531.8" y2="25.15" stroke="#555" stroke-width="0.6" />
<line x1="436.5" y1="16.5" x2="438.5" y2="16.5" stroke="#555" stroke-width="0.6" />
<line x1="529.8" y1="16.5" x2="531.8" y2="16.5" stroke="#555" stroke-width="0.6" />
<text x="436.3" y="18.8" font-size="6.6" text-anchor="end" fill="#222" font-weight="normal"  class="sm">100</text>
<line x1="446.27" y1="85.7" x2="446.27" y2="87.7" stroke="#555" stroke-width="0.6" />
<line x1="446.27" y1="16.5" x2="446.27" y2="18.5" stroke="#555" stroke-width="0.6" />
<text x="446.27" y="93.6" font-size="6.6" text-anchor="middle" fill="#222" font-weight="normal"  class="sm">-1,0</text>
<line x1="455.99" y1="85.7" x2="455.99" y2="86.9" stroke="#555" stroke-width="0.6" />
<line x1="455.99" y1="16.5" x2="455.99" y2="17.7" stroke="#555" stroke-width="0.6" />
<line x1="465.71" y1="85.7" x2="465.71" y2="87.7" stroke="#555" stroke-width="0.6" />
<line x1="465.71" y1="16.5" x2="465.71" y2="18.5" stroke="#555" stroke-width="0.6" />
<text x="465.71" y="93.6" font-size="6.6" text-anchor="middle" fill="#222" font-weight="normal"  class="sm">-0,5</text>
<line x1="475.43" y1="85.7" x2="475.43" y2="86.9" stroke="#555" stroke-width="0.6" />
<line x1="475.43" y1="16.5" x2="475.43" y2="17.7" stroke="#555" stroke-width="0.6" />
<line x1="485.15" y1="85.7" x2="485.15" y2="87.7" stroke="#555" stroke-width="0.6" />
<line x1="485.15" y1="16.5" x2="485.15" y2="18.5" stroke="#555" stroke-width="0.6" />
<text x="485.15" y="93.6" font-size="6.6" text-anchor="middle" fill="#222" font-weight="normal"  class="sm">0,0</text>
<line x1="494.87" y1="85.7" x2="494.87" y2="86.9" stroke="#555" stroke-width="0.6" />
<line x1="494.87" y1="16.5" x2="494.87" y2="17.7" stroke="#555" stroke-width="0.6" />
<line x1="504.59" y1="85.7" x2="504.59" y2="87.7" stroke="#555" stroke-width="0.6" />
<line x1="504.59" y1="16.5" x2="504.59" y2="18.5" stroke="#555" stroke-width="0.6" />
<text x="504.59" y="93.6" font-size="6.6" text-anchor="middle" fill="#222" font-weight="normal"  class="sm">0,5</text>
<line x1="514.31" y1="85.7" x2="514.31" y2="86.9" stroke="#555" stroke-width="0.6" />
<line x1="514.31" y1="16.5" x2="514.31" y2="17.7" stroke="#555" stroke-width="0.6" />
<line x1="524.02" y1="85.7" x2="524.02" y2="87.7" stroke="#555" stroke-width="0.6" />
<line x1="524.02" y1="16.5" x2="524.02" y2="18.5" stroke="#555" stroke-width="0.6" />
<text x="524.02" y="93.6" font-size="6.6" text-anchor="middle" fill="#222" font-weight="normal"  class="sm">1,0</text>
<text x="485.8" y="106" font-size="9.6" text-anchor="middle" fill="#222" font-weight="normal" >U (V)</text>
<text x="0" y="0" font-size="9.8" text-anchor="middle" fill="#222" font-weight="normal" transform="translate(416.7,58.4) rotate(-90)">I (nA)</text>
<polyline points="446.27,80.16 454.05,74.35 461.82,68.54 469.6,62.73 477.38,56.91 481.26,54.01 482.04,53.43 482.82,52.84 483.59,52.26 484.37,51.68 485.15,51.1 485.93,50.52 486.7,49.94 487.48,49.36 488.26,48.77 489.04,48.19 492.92,45.29 500.7,39.47 508.47,33.66 516.25,27.85 524.02,22.04" fill="none" stroke="#111" stroke-width="0.9" stroke-linejoin="round" />
<polygon points="446.27,78.96 444.95,81.24 447.59,81.24" fill="#111" stroke="#111" stroke-width="0.5" />
<polygon points="454.05,73.15 452.73,75.43 455.37,75.43" fill="#111" stroke="#111" stroke-width="0.5" />
<polygon points="461.82,67.34 460.5,69.62 463.14,69.62" fill="#111" stroke="#111" stroke-width="0.5" />
<polygon points="469.6,61.53 468.28,63.81 470.92,63.81" fill="#111" stroke="#111" stroke-width="0.5" />
<polygon points="477.38,55.71 476.06,57.99 478.69,57.99" fill="#111" stroke="#111" stroke-width="0.5" />
<polygon points="481.26,52.81 479.94,55.09 482.58,55.09" fill="#111" stroke="#111" stroke-width="0.5" />
<polygon points="482.04,52.23 480.72,54.51 483.36,54.51" fill="#111" stroke="#111" stroke-width="0.5" />
<polygon points="482.82,51.64 481.5,53.92 484.14,53.92" fill="#111" stroke="#111" stroke-width="0.5" />
<polygon points="483.59,51.06 482.27,53.34 484.91,53.34" fill="#111" stroke="#111" stroke-width="0.5" />
<polygon points="484.37,50.48 483.05,52.76 485.69,52.76" fill="#111" stroke="#111" stroke-width="0.5" />
<polygon points="485.15,49.9 483.83,52.18 486.47,52.18" fill="#111" stroke="#111" stroke-width="0.5" />
<polygon points="485.93,49.32 484.61,51.6 487.25,51.6" fill="#111" stroke="#111" stroke-width="0.5" />
<polygon points="486.7,48.74 485.38,51.02 488.02,51.02" fill="#111" stroke="#111" stroke-width="0.5" />
<polygon points="487.48,48.16 486.16,50.44 488.8,50.44" fill="#111" stroke="#111" stroke-width="0.5" />
<polygon points="488.26,47.57 486.94,49.85 489.58,49.85" fill="#111" stroke="#111" stroke-width="0.5" />
<polygon points="489.04,46.99 487.72,49.27 490.36,49.27" fill="#111" stroke="#111" stroke-width="0.5" />
<polygon points="492.92,44.09 491.6,46.37 494.24,46.37" fill="#111" stroke="#111" stroke-width="0.5" />
<polygon points="500.7,38.27 499.38,40.55 502.02,40.55" fill="#111" stroke="#111" stroke-width="0.5" />
<polygon points="508.47,32.46 507.15,34.74 509.79,34.74" fill="#111" stroke="#111" stroke-width="0.5" />
<polygon points="516.25,26.65 514.93,28.93 517.57,28.93" fill="#111" stroke="#111" stroke-width="0.5" />
<polygon points="524.02,20.84 522.7,23.12 525.35,23.12" fill="#111" stroke="#111" stroke-width="0.5" />
<polyline points="446.27,55.25 454.05,54.42 461.82,53.59 469.6,52.76 477.38,51.93 481.26,51.52 482.04,51.43 482.82,51.35 483.59,51.27 484.37,51.18 485.15,51.1 485.93,51.02 486.7,50.93 487.48,50.85 488.26,50.77 489.04,50.68 492.92,50.27 500.7,49.44 508.47,48.61 516.25,47.78 524.02,46.95" fill="none" stroke="#e02020" stroke-width="0.9" stroke-linejoin="round" />
<circle cx="446.27" cy="55.25" r="1" fill="#e02020" stroke="#e02020" stroke-width="0.4"/>
<circle cx="454.05" cy="54.42" r="1" fill="#e02020" stroke="#e02020" stroke-width="0.4"/>
<circle cx="461.82" cy="53.59" r="1" fill="#e02020" stroke="#e02020" stroke-width="0.4"/>
<circle cx="469.6" cy="52.76" r="1" fill="#e02020" stroke="#e02020" stroke-width="0.4"/>
<circle cx="477.38" cy="51.93" r="1" fill="#e02020" stroke="#e02020" stroke-width="0.4"/>
<circle cx="481.26" cy="51.52" r="1" fill="#e02020" stroke="#e02020" stroke-width="0.4"/>
<circle cx="482.04" cy="51.43" r="1" fill="#e02020" stroke="#e02020" stroke-width="0.4"/>
<circle cx="482.82" cy="51.35" r="1" fill="#e02020" stroke="#e02020" stroke-width="0.4"/>
<circle cx="483.59" cy="51.27" r="1" fill="#e02020" stroke="#e02020" stroke-width="0.4"/>
<circle cx="484.37" cy="51.18" r="1" fill="#e02020" stroke="#e02020" stroke-width="0.4"/>
<circle cx="485.15" cy="51.1" r="1" fill="#e02020" stroke="#e02020" stroke-width="0.4"/>
<circle cx="485.93" cy="51.02" r="1" fill="#e02020" stroke="#e02020" stroke-width="0.4"/>
<circle cx="486.7" cy="50.93" r="1" fill="#e02020" stroke="#e02020" stroke-width="0.4"/>
<circle cx="487.48" cy="50.85" r="1" fill="#e02020" stroke="#e02020" stroke-width="0.4"/>
<circle cx="488.26" cy="50.77" r="1" fill="#e02020" stroke="#e02020" stroke-width="0.4"/>
<circle cx="489.04" cy="50.68" r="1" fill="#e02020" stroke="#e02020" stroke-width="0.4"/>
<circle cx="492.92" cy="50.27" r="1" fill="#e02020" stroke="#e02020" stroke-width="0.4"/>
<circle cx="500.7" cy="49.44" r="1" fill="#e02020" stroke="#e02020" stroke-width="0.4"/>
<circle cx="508.47" cy="48.61" r="1" fill="#e02020" stroke="#e02020" stroke-width="0.4"/>
<circle cx="516.25" cy="47.78" r="1" fill="#e02020" stroke="#e02020" stroke-width="0.4"/>
<circle cx="524.02" cy="46.95" r="1" fill="#e02020" stroke="#e02020" stroke-width="0.4"/>
<rect x="440.6" y="17.7" width="36.4" height="16.3" fill="#fff" stroke="#ddd" stroke-width="0.5"/>
<line x1="442.2" y1="22.4" x2="456.1" y2="22.4" stroke="#e02020" stroke-width="0.9" />
<circle cx="449.4" cy="22.4" r="1" fill="#e02020" stroke="#e02020" stroke-width="0.4"/>
<line x1="442.2" y1="29.6" x2="456.1" y2="29.6" stroke="#111" stroke-width="0.9" />
<polygon points="449.4,28.4 448.08,30.68 450.72,30.68" fill="#111" stroke="#111" stroke-width="0.5" />
<text x="458.9" y="24.7" font-size="6.6" text-anchor="start" fill="#222" font-weight="normal"  class="sm">5 nm</text>
<text x="458.9" y="31.9" font-size="6.6" text-anchor="start" fill="#222" font-weight="normal"  class="sm">10 nm</text>
<rect x="545" y="120.5" width="132.5" height="96" fill="#fff"/>
<line x1="584.26" y1="121.1" x2="584.26" y2="195.1" stroke="#e0e0e0" stroke-width="0.6" stroke-dasharray="0.8 1.2"/>
<line x1="592.01" y1="121.1" x2="592.01" y2="195.1" stroke="#e0e0e0" stroke-width="0.6" stroke-dasharray="0.8 1.2"/>
<line x1="599.77" y1="121.1" x2="599.77" y2="195.1" stroke="#e0e0e0" stroke-width="0.6" stroke-dasharray="0.8 1.2"/>
<line x1="607.52" y1="121.1" x2="607.52" y2="195.1" stroke="#e0e0e0" stroke-width="0.6" stroke-dasharray="0.8 1.2"/>
<line x1="615.28" y1="121.1" x2="615.28" y2="195.1" stroke="#e0e0e0" stroke-width="0.6" stroke-dasharray="0.8 1.2"/>
<line x1="623.04" y1="121.1" x2="623.04" y2="195.1" stroke="#e0e0e0" stroke-width="0.6" stroke-dasharray="0.8 1.2"/>
<line x1="630.79" y1="121.1" x2="630.79" y2="195.1" stroke="#e0e0e0" stroke-width="0.6" stroke-dasharray="0.8 1.2"/>
<line x1="638.55" y1="121.1" x2="638.55" y2="195.1" stroke="#e0e0e0" stroke-width="0.6" stroke-dasharray="0.8 1.2"/>
<line x1="646.31" y1="121.1" x2="646.31" y2="195.1" stroke="#e0e0e0" stroke-width="0.6" stroke-dasharray="0.8 1.2"/>
<line x1="654.06" y1="121.1" x2="654.06" y2="195.1" stroke="#e0e0e0" stroke-width="0.6" stroke-dasharray="0.8 1.2"/>
<line x1="661.82" y1="121.1" x2="661.82" y2="195.1" stroke="#e0e0e0" stroke-width="0.6" stroke-dasharray="0.8 1.2"/>
<line x1="669.57" y1="121.1" x2="669.57" y2="195.1" stroke="#e0e0e0" stroke-width="0.6" stroke-dasharray="0.8 1.2"/>
<line x1="576.5" y1="194.11" x2="676.4" y2="194.11" stroke="#e0e0e0" stroke-width="0.6" stroke-dasharray="0.8 1.2"/>
<line x1="576.5" y1="193.1" x2="676.4" y2="193.1" stroke="#e0e0e0" stroke-width="0.6" stroke-dasharray="0.8 1.2"/>
<line x1="576.5" y1="186.45" x2="676.4" y2="186.45" stroke="#e0e0e0" stroke-width="0.6" stroke-dasharray="0.8 1.2"/>
<line x1="576.5" y1="182.56" x2="676.4" y2="182.56" stroke="#e0e0e0" stroke-width="0.6" stroke-dasharray="0.8 1.2"/>
<line x1="576.5" y1="179.79" x2="676.4" y2="179.79" stroke="#e0e0e0" stroke-width="0.6" stroke-dasharray="0.8 1.2"/>
<line x1="576.5" y1="177.65" x2="676.4" y2="177.65" stroke="#e0e0e0" stroke-width="0.6" stroke-dasharray="0.8 1.2"/>
<line x1="576.5" y1="175.9" x2="676.4" y2="175.9" stroke="#e0e0e0" stroke-width="0.6" stroke-dasharray="0.8 1.2"/>
<line x1="576.5" y1="174.42" x2="676.4" y2="174.42" stroke="#e0e0e0" stroke-width="0.6" stroke-dasharray="0.8 1.2"/>
<line x1="576.5" y1="173.14" x2="676.4" y2="173.14" stroke="#e0e0e0" stroke-width="0.6" stroke-dasharray="0.8 1.2"/>
<line x1="576.5" y1="172.01" x2="676.4" y2="172.01" stroke="#e0e0e0" stroke-width="0.6" stroke-dasharray="0.8 1.2"/>
<line x1="576.5" y1="171" x2="676.4" y2="171" stroke="#e0e0e0" stroke-width="0.6" stroke-dasharray="0.8 1.2"/>
<line x1="576.5" y1="164.35" x2="676.4" y2="164.35" stroke="#e0e0e0" stroke-width="0.6" stroke-dasharray="0.8 1.2"/>
<line x1="576.5" y1="160.46" x2="676.4" y2="160.46" stroke="#e0e0e0" stroke-width="0.6" stroke-dasharray="0.8 1.2"/>
<line x1="576.5" y1="157.69" x2="676.4" y2="157.69" stroke="#e0e0e0" stroke-width="0.6" stroke-dasharray="0.8 1.2"/>
<line x1="576.5" y1="155.55" x2="676.4" y2="155.55" stroke="#e0e0e0" stroke-width="0.6" stroke-dasharray="0.8 1.2"/>
<line x1="576.5" y1="153.8" x2="676.4" y2="153.8" stroke="#e0e0e0" stroke-width="0.6" stroke-dasharray="0.8 1.2"/>
<line x1="576.5" y1="152.32" x2="676.4" y2="152.32" stroke="#e0e0e0" stroke-width="0.6" stroke-dasharray="0.8 1.2"/>
<line x1="576.5" y1="151.04" x2="676.4" y2="151.04" stroke="#e0e0e0" stroke-width="0.6" stroke-dasharray="0.8 1.2"/>
<line x1="576.5" y1="149.91" x2="676.4" y2="149.91" stroke="#e0e0e0" stroke-width="0.6" stroke-dasharray="0.8 1.2"/>
<line x1="576.5" y1="148.9" x2="676.4" y2="148.9" stroke="#e0e0e0" stroke-width="0.6" stroke-dasharray="0.8 1.2"/>
<line x1="576.5" y1="142.25" x2="676.4" y2="142.25" stroke="#e0e0e0" stroke-width="0.6" stroke-dasharray="0.8 1.2"/>
<line x1="576.5" y1="138.36" x2="676.4" y2="138.36" stroke="#e0e0e0" stroke-width="0.6" stroke-dasharray="0.8 1.2"/>
<line x1="576.5" y1="135.59" x2="676.4" y2="135.59" stroke="#e0e0e0" stroke-width="0.6" stroke-dasharray="0.8 1.2"/>
<line x1="576.5" y1="133.45" x2="676.4" y2="133.45" stroke="#e0e0e0" stroke-width="0.6" stroke-dasharray="0.8 1.2"/>
<line x1="576.5" y1="131.7" x2="676.4" y2="131.7" stroke="#e0e0e0" stroke-width="0.6" stroke-dasharray="0.8 1.2"/>
<line x1="576.5" y1="130.22" x2="676.4" y2="130.22" stroke="#e0e0e0" stroke-width="0.6" stroke-dasharray="0.8 1.2"/>
<line x1="576.5" y1="128.94" x2="676.4" y2="128.94" stroke="#e0e0e0" stroke-width="0.6" stroke-dasharray="0.8 1.2"/>
<line x1="576.5" y1="127.81" x2="676.4" y2="127.81" stroke="#e0e0e0" stroke-width="0.6" stroke-dasharray="0.8 1.2"/>
<line x1="576.5" y1="126.8" x2="676.4" y2="126.8" stroke="#e0e0e0" stroke-width="0.6" stroke-dasharray="0.8 1.2"/>
<rect x="576.5" y="121.1" width="99.89999999999998" height="74.0" fill="none" stroke="#666" stroke-width="0.8"/>
<line x1="576.5" y1="195.1" x2="576.5" y2="193.3" stroke="#666" stroke-width="0.5" />
<line x1="576.5" y1="121.1" x2="576.5" y2="122.9" stroke="#666" stroke-width="0.5" />
<text x="576.5" y="203.2" font-size="6.6" text-anchor="middle" fill="#222" font-weight="normal"  class="sm">0</text>
<line x1="584.26" y1="195.1" x2="584.26" y2="194" stroke="#666" stroke-width="0.5" />
<line x1="584.26" y1="121.1" x2="584.26" y2="122.2" stroke="#666" stroke-width="0.5" />
<line x1="592.01" y1="195.1" x2="592.01" y2="193.3" stroke="#666" stroke-width="0.5" />
<line x1="592.01" y1="121.1" x2="592.01" y2="122.9" stroke="#666" stroke-width="0.5" />
<text x="592.01" y="203.2" font-size="6.6" text-anchor="middle" fill="#222" font-weight="normal"  class="sm">10</text>
<line x1="599.77" y1="195.1" x2="599.77" y2="194" stroke="#666" stroke-width="0.5" />
<line x1="599.77" y1="121.1" x2="599.77" y2="122.2" stroke="#666" stroke-width="0.5" />
<line x1="607.52" y1="195.1" x2="607.52" y2="193.3" stroke="#666" stroke-width="0.5" />
<line x1="607.52" y1="121.1" x2="607.52" y2="122.9" stroke="#666" stroke-width="0.5" />
<text x="607.52" y="203.2" font-size="6.6" text-anchor="middle" fill="#222" font-weight="normal"  class="sm">20</text>
<line x1="615.28" y1="195.1" x2="615.28" y2="194" stroke="#666" stroke-width="0.5" />
<line x1="615.28" y1="121.1" x2="615.28" y2="122.2" stroke="#666" stroke-width="0.5" />
<line x1="623.04" y1="195.1" x2="623.04" y2="193.3" stroke="#666" stroke-width="0.5" />
<line x1="623.04" y1="121.1" x2="623.04" y2="122.9" stroke="#666" stroke-width="0.5" />
<text x="623.04" y="203.2" font-size="6.6" text-anchor="middle" fill="#222" font-weight="normal"  class="sm">30</text>
<line x1="630.79" y1="195.1" x2="630.79" y2="194" stroke="#666" stroke-width="0.5" />
<line x1="630.79" y1="121.1" x2="630.79" y2="122.2" stroke="#666" stroke-width="0.5" />
<line x1="638.55" y1="195.1" x2="638.55" y2="193.3" stroke="#666" stroke-width="0.5" />
<line x1="638.55" y1="121.1" x2="638.55" y2="122.9" stroke="#666" stroke-width="0.5" />
<text x="638.55" y="203.2" font-size="6.6" text-anchor="middle" fill="#222" font-weight="normal"  class="sm">40</text>
<line x1="646.31" y1="195.1" x2="646.31" y2="194" stroke="#666" stroke-width="0.5" />
<line x1="646.31" y1="121.1" x2="646.31" y2="122.2" stroke="#666" stroke-width="0.5" />
<line x1="654.06" y1="195.1" x2="654.06" y2="193.3" stroke="#666" stroke-width="0.5" />
<line x1="654.06" y1="121.1" x2="654.06" y2="122.9" stroke="#666" stroke-width="0.5" />
<text x="654.06" y="203.2" font-size="6.6" text-anchor="middle" fill="#222" font-weight="normal"  class="sm">50</text>
<line x1="661.82" y1="195.1" x2="661.82" y2="194" stroke="#666" stroke-width="0.5" />
<line x1="661.82" y1="121.1" x2="661.82" y2="122.2" stroke="#666" stroke-width="0.5" />
<line x1="669.57" y1="195.1" x2="669.57" y2="193.3" stroke="#666" stroke-width="0.5" />
<line x1="669.57" y1="121.1" x2="669.57" y2="122.9" stroke="#666" stroke-width="0.5" />
<text x="669.57" y="203.2" font-size="6.6" text-anchor="middle" fill="#222" font-weight="normal"  class="sm">60</text>
<line x1="576.5" y1="193.1" x2="578.3" y2="193.1" stroke="#666" stroke-width="0.5" />
<line x1="676.4" y1="193.1" x2="674.6" y2="193.1" stroke="#666" stroke-width="0.5" />
<text class="sm" x="575" y="195.3" font-size="6.4" text-anchor="end" fill="#222">10<tspan font-size="4" dy="-2.8">7</tspan></text>
<line x1="576.5" y1="171" x2="578.3" y2="171" stroke="#666" stroke-width="0.5" />
<line x1="676.4" y1="171" x2="674.6" y2="171" stroke="#666" stroke-width="0.5" />
<text class="sm" x="575" y="173.2" font-size="6.4" text-anchor="end" fill="#222">10<tspan font-size="4" dy="-2.8">8</tspan></text>
<line x1="576.5" y1="148.9" x2="578.3" y2="148.9" stroke="#666" stroke-width="0.5" />
<line x1="676.4" y1="148.9" x2="674.6" y2="148.9" stroke="#666" stroke-width="0.5" />
<text class="sm" x="575" y="151.1" font-size="6.4" text-anchor="end" fill="#222">10<tspan font-size="4" dy="-2.8">9</tspan></text>
<line x1="576.5" y1="126.8" x2="578.3" y2="126.8" stroke="#666" stroke-width="0.5" />
<line x1="676.4" y1="126.8" x2="674.6" y2="126.8" stroke="#666" stroke-width="0.5" />
<text class="sm" x="575" y="129" font-size="6.4" text-anchor="end" fill="#222">10<tspan font-size="4" dy="-2.8">10</tspan></text>
<text x="627.3" y="214.2" font-size="8.2" text-anchor="middle" fill="#222" font-weight="normal" >Thickness (nm)</text>
<text x="0" y="0" font-size="8" text-anchor="middle" fill="#222" font-weight="normal" transform="translate(559.3,162.5) rotate(-90)">Resistivity (µΩ.cm)</text>
<polygon points="584.72,125.9 582.42,129.9 587.02,129.9" fill="#1010e0" stroke="none" stroke-width="1" />
<polygon points="592.32,144.7 590.02,148.7 594.62,148.7" fill="#1010e0" stroke="none" stroke-width="1" />
<polygon points="607.37,154.3 605.07,158.3 609.67,158.3" fill="#1010e0" stroke="none" stroke-width="1" />
<polygon points="638.55,174.2 636.25,178.2 640.85,178.2" fill="#1010e0" stroke="none" stroke-width="1" />
<polygon points="669.57,187.3 667.27,191.3 671.87,191.3" fill="#1010e0" stroke="none" stroke-width="1" />
<rect x="404.0" y="10.4" width="281.29999999999995" height="207.79999999999998" fill="none" stroke="#333" stroke-width="1.3"/>
<rect x="688.6" y="10.4" width="64.8" height="91.9" fill="#fff" stroke="#c8c8c8" stroke-width="0.8"/>
<line x1="693.6" y1="18.1" x2="716.8" y2="18.1" stroke="#ee1111" stroke-width="1.3" />
<circle cx="705.3" cy="18.1" r="2.7" fill="#ee1111" stroke="#ee1111" stroke-width="1.2"/>
<text x="720" y="21.8" font-size="10.2" text-anchor="start" fill="#222" font-weight="normal" >5 nm</text>
<line x1="693.6" y1="30.85" x2="716.8" y2="30.85" stroke="#111" stroke-width="1.3" />
<polygon points="705.3,28.15 702.33,33.28 708.27,33.28" fill="#111" stroke="#111" stroke-width="1.2" />
<text x="720" y="34.55" font-size="10.2" text-anchor="start" fill="#222" font-weight="normal" >10 nm</text>
<line x1="693.6" y1="43.6" x2="716.8" y2="43.6" stroke="#1428e6" stroke-width="1.3" />
<polygon points="705.3,46.3 702.33,41.17 708.27,41.17" fill="#1428e6" stroke="#1428e6" stroke-width="1.2" />
<text x="720" y="47.3" font-size="10.2" text-anchor="start" fill="#222" font-weight="normal" >15 nm</text>
<line x1="693.6" y1="56.35" x2="716.8" y2="56.35" stroke="#a02020" stroke-width="1.3" />
<polygon points="705.3,53.65 708,56.35 705.3,59.05 702.6,56.35" fill="#7a0a0a" stroke="#7a0a0a" stroke-width="1.2" />
<text x="720" y="60.05" font-size="10.2" text-anchor="start" fill="#222" font-weight="normal" >20 nm</text>
<line x1="693.6" y1="69.1" x2="716.8" y2="69.1" stroke="#ff22ff" stroke-width="1.3" />
<polygon points="702.6,69.1 707.73,66.13 707.73,72.07" fill="#ff22ff" stroke="#ff22ff" stroke-width="1.2" />
<text x="720" y="72.8" font-size="10.2" text-anchor="start" fill="#222" font-weight="normal" >35 nm</text>
<line x1="693.6" y1="81.85" x2="716.8" y2="81.85" stroke="#7d1290" stroke-width="1.3" />
<polygon points="708,81.85 702.87,78.88 702.87,84.82" fill="#7d1290" stroke="#7d1290" stroke-width="1.2" />
<text x="720" y="85.55" font-size="10.2" text-anchor="start" fill="#222" font-weight="normal" >50 nm</text>
<line x1="693.6" y1="94.6" x2="716.8" y2="94.6" stroke="#9a8040" stroke-width="1.3" />
<circle cx="705.3" cy="94.6" r="2.7" fill="#86861a" stroke="#86861a" stroke-width="1.2"/>
<text x="720" y="98.3" font-size="10.2" text-anchor="start" fill="#222" font-weight="normal" >70 nm</text>
</svg></body></html>
